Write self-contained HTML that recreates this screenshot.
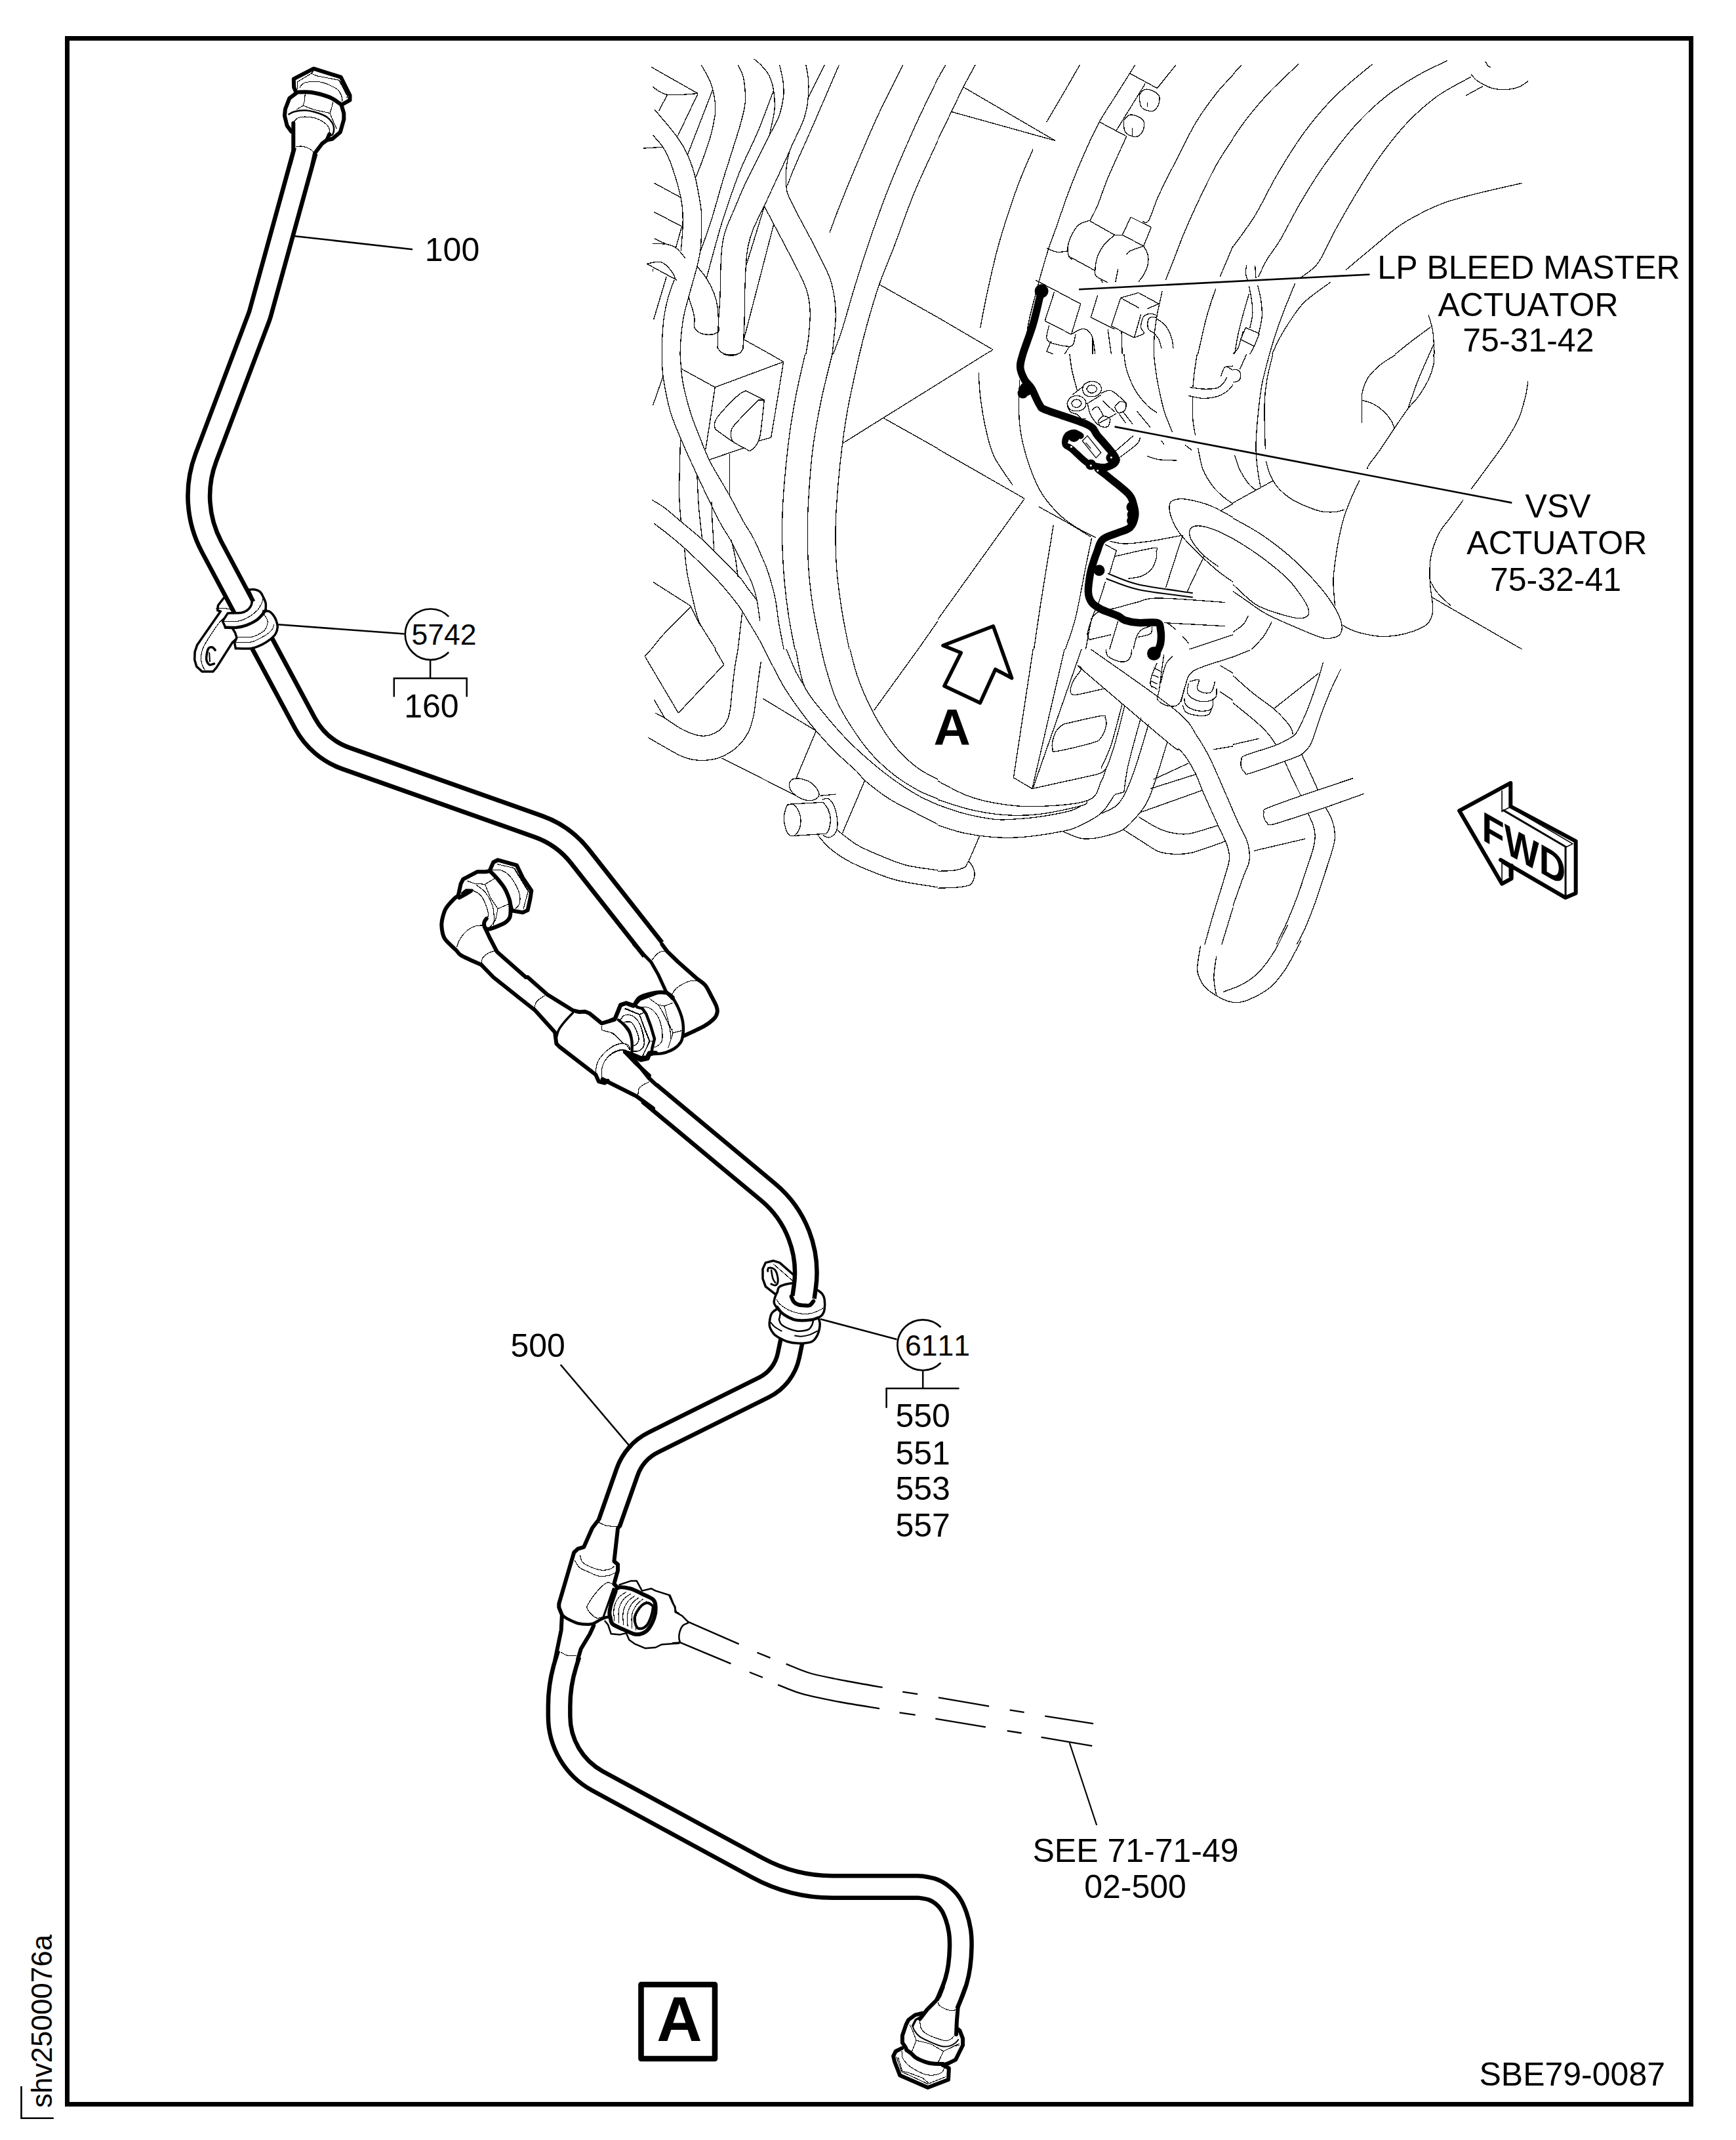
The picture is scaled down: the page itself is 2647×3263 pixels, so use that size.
<!DOCTYPE html>
<html><head><meta charset="utf-8"><title>SBE79-0087</title>
<style>html,body{margin:0;padding:0;background:#fff}svg{display:block}text{font-family:"Liberation Sans",Arial,sans-serif;fill:#000;font-kerning:none}</style>
</head><body>
<svg width="2647" height="3263" viewBox="0 0 2647 3263">
<rect width="2647" height="3263" fill="#fff"/>
<g id="engine">
<path d="M993 102.2 L1064.2 142.6 M995 132.3 C998.8 134.3 1006.1 142.7 1017.6 144.4 C1029.1 146.1 1056.4 142.9 1064.2 142.6 M1017.6 144.4 L1004.6 169.1 M997.6 166.5 C1003.3 173.4 1023.3 196.2 1031.8 207.9 C1040.3 219.6 1044.2 226.8 1048.7 236.5 C1053.2 246.2 1056.3 256.2 1059.1 266.3 C1061.9 276.4 1063.8 287.9 1065.5 297.4 C1067.2 306.9 1068.8 313.8 1069.4 323.3 C1070.1 332.8 1069.6 344.9 1069.4 354.4 C1069.2 363.9 1069.2 371.7 1068.1 380.3 C1067 388.9 1065.9 394.1 1062.9 406.2 C1059.9 418.3 1053.5 439.9 1050 452.9 C1046.5 465.9 1044.2 473.6 1042.2 484 C1040.2 494.4 1039.2 505.8 1038.3 515.1 C1037.4 524.4 1037.2 535.9 1037 540 M1064.2 142.6 L1033.1 207.9 M1069.4 99.1 C1071.8 103.6 1080.2 117 1083.7 126.3 C1087.2 135.6 1089.1 146.6 1090.2 154.8 C1091.3 163 1091.3 166.9 1090.2 175.5 C1089.1 184.1 1087 194.9 1083.7 206.6 C1080.5 218.3 1074.6 234.7 1070.7 245.5 C1066.8 256.3 1062.1 267.2 1060.4 271.5 M1086.3 138 L1048.7 235.2 M995.6 206.1 C998.2 209.2 1006.8 218.2 1011.1 224.8 C1015.4 231.4 1018 236.9 1021.5 245.5 C1025 254.1 1029 267.1 1031.8 276.6 C1034.6 286.1 1036.8 294.8 1038.3 302.6 C1039.8 310.4 1040.5 315.5 1040.9 323.3 C1041.3 331.1 1041.3 339.3 1040.9 349.2 C1040.5 359.1 1038.7 377.3 1038.3 382.9 M981.3 226.1 L1009.8 224.3 M997.6 279.2 L1038.3 301.3 M997.6 323.3 L1039.6 345.3 M1039.6 345.3 L1030.5 377.7 M997.6 363.5 C1000.3 364.8 1008.2 368.8 1013.7 371.2 C1019.2 373.6 1025.3 374 1030.5 377.7 C1035.7 381.4 1042.4 390.7 1044.8 393.3 M995 371.2 L1013.7 372 M986.5 402.4 C988.4 402 994.4 400.2 998.1 399.8 C1001.8 399.4 1005 398.5 1008.5 399.8 C1012 401.1 1015.9 404.5 1018.9 407.5 C1021.9 410.5 1024.8 414.6 1026.7 417.9 C1028.6 421.1 1029.9 425.5 1030.5 427 M986.5 402.4 L1031.8 427 M995.6 410.1 L995.6 414 M1016.3 421.8 L996.8 486.6 M1028 427 C1026.5 431.3 1021.5 443.4 1018.9 452.9 C1016.3 462.4 1013.9 473.6 1012.4 484 C1010.9 494.4 1010.3 505.8 1009.8 515.1 C1009.3 524.4 1009.4 535.9 1009.3 540 M1125.2 99.1 C1126.5 101.9 1131.1 108.8 1132.9 115.9 C1134.8 123 1135.9 134 1136.3 141.8 C1136.7 149.6 1136.9 153.9 1135.5 162.6 C1134.1 171.2 1131.2 181.6 1127.8 193.7 C1124.3 205.8 1119.1 221.4 1114.8 235.2 C1110.5 249 1107 259.3 1101.8 276.6 C1096.6 293.9 1089.3 321.1 1083.7 338.8 C1078.1 356.5 1070.7 375.5 1068.1 382.9 M1149.8 90 C1151.8 91.7 1157.6 96.1 1161.5 100.4 C1165.4 104.7 1170.1 109.6 1173.1 115.9 C1176.1 122.2 1178.3 129.3 1179.6 138 C1180.9 146.7 1182 156.4 1180.9 167.8 C1179.8 179.2 1174.4 200.1 1173.1 206.6 M1179.6 138 C1175.7 148.2 1164.5 179.2 1156.3 198.9 C1148.1 218.6 1137.2 239.5 1130.3 255.9 C1123.4 272.3 1119.5 284 1114.8 297.4 C1110 310.8 1105.2 325.5 1101.8 336.3 C1098.3 347.1 1098.2 347.5 1094.1 362.2 C1090 376.9 1080 414 1077.2 424.4 M1188.7 99.1 C1189.6 103.2 1192.9 115.7 1193.9 123.7 C1194.9 131.7 1195.7 137.9 1194.6 147 C1193.5 156.1 1191 168.2 1187.4 178.1 C1183.8 188 1178.3 196.2 1173.1 206.6 C1167.9 217 1162.6 227.8 1156.3 240.3 C1150 252.8 1141.5 268.8 1135.5 281.8 C1129.5 294.8 1124.8 306.9 1120 318.1 C1115.2 329.3 1110 340.6 1107 349.2 C1104 357.8 1103.1 361.4 1101.8 370 C1100.5 378.6 1099.8 387.3 1099.2 401.1 C1098.6 414.9 1098.5 437.8 1097.9 452.9 C1097.3 468 1096 478.8 1095.4 491.8 C1094.8 504.8 1094.3 524.2 1094.1 530.7 M1228.8 99.1 C1229.5 103.2 1232.3 114 1232.7 123.7 C1233.1 133.4 1232.7 147.5 1231.4 157.4 C1230.1 167.3 1227.8 175.1 1225 183.3 C1222.2 191.5 1218.1 198.8 1214.6 206.6 C1211.1 214.4 1206.8 221.8 1204.2 230 C1201.6 238.2 1199.9 246.8 1199 255.9 C1198.1 265 1198.3 277 1199 284.4 C1199.7 291.8 1199.7 292.2 1202.9 300 C1206.2 307.8 1212.5 319.4 1218.5 331.1 C1224.5 342.8 1233.2 358.3 1239.2 370 C1245.2 381.7 1250.3 391.6 1254.8 401.1 C1259.3 410.6 1263.4 417.5 1266.4 427 C1269.4 436.5 1271.6 448.6 1272.9 458.1 C1274.2 467.6 1274.4 474.5 1274.2 484 C1274 493.5 1272.5 505.8 1271.6 515.1 C1270.7 524.4 1269.4 535.9 1269 540 M1257.4 99.1 L1232.7 148.3 M1279.4 99.1 C1272.8 114.4 1250.7 165.8 1239.7 191.1 C1228.7 216.4 1219.9 235.4 1213.3 250.7 C1206.7 266 1202.5 277.7 1200.3 283.1 M1204.2 230 L1165.3 314.2 M1165.3 314.2 C1162.5 320 1152.6 339 1148.5 349.2 C1144.4 359.4 1142.5 366.5 1140.7 375.1 C1138.9 383.8 1138.5 388.1 1137.6 401.1 C1136.7 414.1 1135.9 437.8 1135.5 452.9 C1135.1 468 1135.4 478.8 1135 491.8 C1134.6 504.8 1133.2 524.2 1132.9 530.7 M1165.3 315.5 L1138.1 403.7 M1165.3 314.2 C1167.7 318.7 1172.9 328.6 1179.6 341.4 C1186.3 354.1 1197.9 376 1205.5 390.7 C1213.1 405.4 1220.5 419.2 1225 429.6 C1229.5 440 1231 444.7 1232.7 452.9 C1234.4 461.1 1235.3 468.4 1235.3 478.8 C1235.3 489.2 1233.8 504.9 1232.7 515.1 C1231.6 525.3 1229.5 535.9 1228.8 540 M1179.6 342.7 L1134.2 517.7 M1062.9 406.2 C1065.3 409.2 1072.9 417.5 1077.2 424.4 C1081.5 431.3 1086.1 440.3 1088.9 447.7 C1091.7 455.1 1092.9 459 1094.1 468.5 C1095.3 478 1095.8 498.7 1096.1 504.7 M1050 452.9 C1051.1 456.3 1055 468 1056.5 473.6 C1058 479.2 1058.7 482.3 1059.1 486.6 C1059.5 490.9 1057.4 495.9 1059.1 499.6 C1060.8 503.3 1064.9 506.9 1069.4 508.6 C1073.9 510.3 1082 510.3 1086.3 509.9 C1090.6 509.5 1093.9 506.6 1095.4 506 M1094.1 530.7 C1095.4 532 1098.3 536.7 1101.8 538.4 C1105.2 540.1 1110.5 541 1114.8 541 C1119.1 541 1124.7 540.1 1127.8 538.4 C1130.9 536.7 1132.5 532 1133.5 530.7 M1134.2 517.7 L1174.4 540 M1376.6 99.1 C1370.1 112.3 1349.8 152 1337.7 178.1 C1325.6 204.2 1313.5 233.4 1304 255.9 C1294.5 278.4 1287.2 296.5 1280.7 312.9 C1274.2 329.3 1267.7 347.5 1265.1 354.4 M1430 119.8 C1424.1 132.1 1407 166.3 1394.7 193.7 C1382.4 221.1 1367.1 256.3 1355.9 284.4 C1344.7 312.5 1336.1 337.1 1327.4 362.2 C1318.8 387.3 1311.3 411.1 1304 434.8 C1296.7 458.6 1288.9 487.2 1283.3 504.7 C1277.7 522.2 1272.5 534.1 1270.3 540 M1430 214.4 C1424.1 227.4 1405.8 265.4 1394.7 292.2 C1383.6 319 1372.7 351.3 1363.6 375.1 C1354.5 398.9 1347.2 414.9 1340.3 434.8 C1333.4 454.7 1327.2 476.9 1322.2 494.4 C1317.2 511.9 1312.5 532.4 1310.5 540 M1340.3 433.5 L1430 484 M1441.7 99.1 L1430 119.8 M1487 99.1 C1484 104.7 1475 120.9 1468.9 132.8 C1462.9 144.7 1457.2 157 1450.7 170.4 C1444.2 183.8 1433.5 206 1430 213.1 M1468.9 132.8 L1608.9 214.4 M1450.7 170.4 L1608.9 214.4 M1646.4 99.1 C1642.3 106.2 1630.2 127.3 1621.8 141.8 C1613.4 156.3 1600.2 178.6 1595.9 185.9 M1575.2 227.4 C1571.7 235.6 1560.9 259.8 1554.4 276.6 C1547.9 293.5 1541.9 311.2 1536.3 328.5 C1530.7 345.8 1525.5 362.6 1520.7 380.3 C1516 398 1511.5 418.4 1507.8 434.8 C1504.1 451.2 1500.9 468 1498.7 478.8 C1496.5 489.6 1495.5 496.1 1494.8 499.6 M1730.7 99.1 C1726 106.6 1711.3 129.9 1702.2 144.4 C1693.1 158.9 1684.5 170.8 1676.3 185.9 C1668.1 201 1660.7 217.5 1652.9 235.2 C1645.1 252.9 1636.5 274.1 1629.6 292.2 C1622.7 310.3 1616.7 329.3 1611.5 344 C1606.3 358.7 1602.8 366.9 1598.5 380.3 C1594.2 393.7 1589.4 410.6 1585.5 424.4 C1581.6 438.2 1578.2 451.2 1575.2 463.3 C1572.2 475.4 1569.6 484.2 1567.4 497 C1565.2 509.8 1563.1 532.8 1562.2 540 M1722.9 112 L1764.4 134.6 M1764.4 134.6 L1792.9 99.1 M1746.2 127.6 L1702.2 198.9 M1676.3 185.9 L1717.7 207.9 M1717.7 207.9 C1713 218.5 1696.5 254 1689.2 271.5 C1681.9 289 1678.2 302.1 1673.7 312.9 C1669.2 323.7 1664 332.4 1662 336.3 M1737.2 144.4 C1738.5 143.1 1741.7 137.8 1744.9 136.7 C1748.1 135.6 1752.9 136.5 1756.6 138 C1760.3 139.5 1765.3 142.5 1767 145.7 C1768.7 148.9 1768.1 153.7 1767 157.4 C1765.9 161.1 1763.1 165.9 1760.5 167.8 C1757.9 169.8 1754.9 170 1751.4 169.1 C1748 168.2 1742.2 166.7 1739.8 162.6 C1737.4 158.5 1737.6 147.4 1737.2 144.4 M1749.4 156.1 L1749.4 162.6 M1713.8 183.3 C1715.1 182 1718.3 176.6 1721.6 175.5 C1724.8 174.4 1729.6 175.3 1733.3 176.8 C1737 178.3 1742 181.3 1743.7 184.6 C1745.4 187.8 1744.8 192.6 1743.7 196.3 C1742.6 200 1740 204.7 1737.2 206.6 C1734.4 208.5 1730.5 209 1726.8 207.9 C1723.1 206.8 1717.3 204.3 1715.1 200.2 C1712.9 196.1 1714 186.1 1713.8 183.3 M1726.3 195 L1726.3 206.6 M1880 114.6 C1875.8 119.1 1864.4 129.9 1855.1 141.8 C1845.8 153.7 1834.4 168.6 1824 185.9 C1813.6 203.2 1802.4 226.9 1792.9 245.5 C1783.4 264.1 1773.9 282.3 1767 297.4 C1760.1 312.5 1755.5 329.6 1751.4 336.3 C1747.3 343 1743.9 337.4 1742.4 337.6 M1880 211.8 C1875.8 218.3 1863.6 235.6 1855.1 250.7 C1846.6 265.8 1837.4 285.3 1829.2 302.6 C1821 319.9 1812.8 338 1805.9 354.4 C1799 370.8 1792.5 389 1787.7 401.1 C1783 413.2 1779.1 422.7 1777.4 427 M1880 375.1 L1860.3 421.8 M1660.7 336.3 C1658.1 337.4 1649.4 339.2 1645.1 342.7 C1640.8 346.1 1637.6 351.6 1634.8 357 C1632 362.4 1629.2 369.5 1628.3 375.1 C1627.4 380.7 1628.5 387.2 1629.6 390.7 C1630.7 394.2 1633.9 395 1634.8 395.9 M1660.7 336.3 L1699.6 358.3 M1699.6 358.3 L1711.2 358.3 M1711.2 358.3 L1743.7 375.1 M1629.6 390.7 L1669.8 412.7 M1699.6 358.3 C1697 360.7 1688.3 367.1 1684 372.5 C1679.7 377.9 1676.1 384 1673.7 390.7 C1671.3 397.4 1670 407.5 1669.8 412.7 C1669.6 417.9 1669.2 418.8 1672.4 421.8 C1675.6 424.8 1686.4 429.4 1689.2 430.9 M1743.7 375.1 C1744.8 377.3 1749 383.3 1750.1 388.1 C1751.2 392.9 1751.2 398.5 1750.1 403.7 C1749 408.9 1746.1 414.9 1743.7 419.2 C1741.3 423.5 1737.2 427.9 1735.9 429.6 M1711.2 358.3 L1724.2 331.1 M1724.2 331.1 L1755.3 346.6 M1755.3 346.6 L1743.7 375.1 M1717.7 388.1 C1718.6 387.2 1718.6 385.1 1722.9 382.9 C1727.2 380.7 1740.2 376.4 1743.7 375.1 M1704.8 410.1 L1700.9 429.6 M1595.9 378.5 C1598.5 379.4 1606.1 383.5 1611.5 384.2 C1616.9 384.9 1625.5 383.1 1628.3 382.9 M1678.8 427 L1681.4 430.9 M1579 427 L1647.7 463.3 M1607.6 445.1 L1593.3 489.2 M1593.3 489.2 L1633.5 509.9 M1633.5 509.9 L1647.7 463.3 M1599.8 495.7 C1599.2 498.9 1595.2 510.6 1595.9 515.1 C1596.6 519.6 1598.5 520.7 1603.7 522.9 C1608.9 525.1 1621.6 527.7 1627 528.1 C1632.4 528.5 1633.9 528.5 1636.1 525.5 C1638.3 522.5 1639.3 512.5 1640 509.9 M1602.4 520.3 L1595.9 535.9 M1595.9 535.9 L1606.3 540 M1630.9 528.1 L1623.1 540 M1633.5 509.9 C1635.9 508.6 1643.6 503.3 1647.7 502.2 C1651.8 501.1 1655.1 501.4 1658.1 503.5 C1661.1 505.6 1664 509 1665.9 515.1 C1667.9 521.2 1669.2 535.9 1669.8 540 M1665.9 515.1 L1665.9 540 M1673.7 450.3 L1663.3 484 M1663.3 484 L1699.6 502.2 M1708.7 454.2 L1735.9 446.4 M1735.9 446.4 L1767 463.3 M1708.7 454.2 L1694.4 497 M1694.4 497 L1729.4 515.1 M1729.4 515.1 L1744.9 508.6 M1708.7 454.2 L1737.2 469.8 M1767 463.3 L1748.8 471 M1739.8 478.8 L1729.4 515.1 M1772.2 443.8 L1764.4 478.8 M1689.2 502.2 L1694.4 540 M1710 504.7 L1711.2 540 M1761.8 480.1 C1760.5 479.8 1756.8 478.1 1754 478.3 C1751.2 478.5 1747.1 479.6 1744.9 481.4 C1742.8 483.2 1741.9 486.2 1741.1 489.2 C1740.2 492.2 1739.2 496.6 1739.8 499.6 C1740.4 502.6 1744.1 506 1744.9 507.3 M1763.1 484 C1761.6 484 1756.2 482.9 1754 484 C1751.8 485.1 1750.5 487.5 1750.1 490.5 C1749.7 493.5 1749.9 499.4 1751.4 502.2 C1752.9 505 1757.9 506.4 1759.2 507.3 M1763.1 485.3 C1765.5 487.2 1773.5 492 1777.4 497 C1781.3 502 1784.5 509.5 1786.4 515.1 C1788.3 520.7 1788.6 528.1 1789 530.7 M1759.2 507.3 C1760.5 509 1765 513.8 1767 517.7 C1769 521.6 1770.2 528.5 1770.9 530.7 M1853.8 439.9 C1851.4 447.2 1844.1 467.3 1839.6 484 C1835.1 500.7 1828.8 530.7 1826.6 540 M1764.4 478.8 C1763.8 483.6 1761.4 497.1 1760.5 507.3 C1759.6 517.5 1759.4 534.5 1759.2 540 M1430 484 L1514.2 533.3 M1514.2 533.3 L1502.6 540 M1893 99.1 L1880 113.3 M1979.8 97.8 C1972.2 105.1 1947.2 128.4 1934.4 141.8 C1921.7 155.2 1912.4 166.7 1903.3 178.1 C1894.2 189.5 1883.9 205.1 1880 210.5 M2092.6 97.8 C2083.1 106 2052.8 129.7 2035.5 147 C2018.2 164.3 2003.6 181.6 1988.9 201.5 C1974.2 221.4 1959.9 245.1 1947.4 266.3 C1934.9 287.5 1924.9 310.1 1913.7 328.5 C1902.5 346.9 1885.6 368.4 1880 376.4 M2206.6 92.6 C2198.8 96.5 2175.6 106.8 2160 115.9 C2144.4 125 2128.9 134.5 2113.3 147 C2097.7 159.5 2082.2 173.8 2066.6 191.1 C2051 208.4 2033.8 231.3 2020 250.7 C2006.2 270.1 1994.9 288.7 1983.7 307.7 C1972.5 326.7 1961.2 350.1 1952.6 364.8 C1943.9 379.5 1937.4 386.4 1931.8 395.9 C1926.2 405.4 1921.1 417.5 1918.9 421.8 M2242.9 117.2 C2234.3 122.2 2207.5 135.1 2191.1 147 C2174.7 158.9 2159.1 172.9 2144.4 188.5 C2129.7 204.1 2115.9 222.2 2102.9 240.3 C2089.9 258.4 2077.8 278.8 2066.6 297.4 C2055.4 316 2045 334.5 2035.5 351.8 C2026 369.1 2018.2 389.2 2009.6 401.1 C2001 413 1988 419.4 1983.7 423.1 M2242.9 113.3 C2244.6 115 2248.1 120.2 2253.3 123.7 C2258.5 127.2 2267.1 131.9 2274 134.1 C2280.9 136.3 2287.8 136.9 2294.7 136.7 C2301.6 136.5 2309.6 135 2315.5 132.8 C2321.4 130.6 2327.6 125.2 2330 123.7 M2235.1 145.7 L2261 131.5 M2264.9 93.9 C2265.6 95 2267.5 99 2268.8 100.4 C2270.1 101.8 2272 102.1 2272.7 102.4 M2320.7 279.2 C2309.5 281.8 2272.3 290.1 2253.3 294.8 C2234.3 299.6 2220 303.2 2206.6 307.7 C2193.2 312.2 2185 315.9 2172.9 322 C2160.8 328.1 2147.4 334.7 2134 344 C2120.6 353.3 2106.2 366.5 2092.6 377.7 C2079 388.9 2059.1 405.8 2052.4 411.4 M1900.7 403.7 C1900.5 405.9 1899.2 412.7 1899.4 416.6 C1899.6 420.5 1901.6 425.3 1902 427 M1913.7 404.9 L1915 424.4 M1904.6 436.1 C1905.2 439.8 1907.6 451 1908.5 458.1 C1909.4 465.2 1910.2 471.9 1909.8 478.8 C1909.4 485.7 1906.6 496.1 1905.9 499.6 M1917.6 434.8 C1918.5 438.7 1921.7 449.9 1922.8 458.1 C1923.9 466.3 1924.8 475.4 1924.1 484 C1923.4 492.6 1919.8 505.6 1918.9 509.9 M1904.6 447.7 C1903.1 452.9 1898.4 468.4 1895.6 478.8 C1892.8 489.2 1890 499.7 1887.8 509.9 C1885.6 520.1 1883.5 535 1882.6 540 M1899.4 499.6 L1920.2 508.6 M1920.2 508.6 L1912.4 528.1 M1912.4 528.1 L1891.7 517.7 M1891.7 517.7 L1899.4 499.6 M1891.7 517.7 C1891 519.9 1889.8 527 1887.8 530.7 C1885.8 534.4 1881.3 538.5 1880 540 M1912.4 528.1 L1905.9 540 M1895.6 504.7 L1893 515.1 M1974.6 432.2 C1971.8 439.1 1962.8 460.7 1957.8 473.6 C1952.8 486.6 1948.5 498.8 1944.8 509.9 C1941.1 521 1937.2 535 1935.7 540 M2029 430.1 C2022.3 435.2 1999.5 450.4 1988.9 460.7 C1978.3 471 1972 482.3 1965.5 491.8 C1959 501.3 1954.3 509.7 1950 517.7 C1945.7 525.7 1941.3 536.3 1939.6 540 M2178.1 480.1 C2179.2 484.2 2183.1 494.7 2184.6 504.7 C2186.1 514.7 2186.8 534.1 2187.2 540 M2182 498.3 C2177 502 2161.3 513.3 2152.2 520.3 C2143.1 527.2 2131.7 536.7 2127.6 540 M2185.9 525.5 L2179.4 540 M1009.3 540 C1009.6 545.6 1009.1 559.5 1011.1 573.7 C1013.1 588 1017 609.5 1021.5 625.5 C1026 641.5 1031.8 654 1038.3 669.6 C1044.8 685.2 1053.3 703.4 1060.4 718.9 C1067.5 734.4 1074.6 749.5 1081.1 762.9 C1087.6 776.3 1093.6 788.8 1099.2 799.2 C1104.8 809.6 1109.2 814.7 1114.8 825.1 C1120.4 835.5 1127.7 851 1132.9 861.4 C1138.1 871.8 1142.4 878.8 1145.9 887.4 C1149.4 896 1151.5 903.4 1153.7 913.3 C1155.9 923.2 1158 941.4 1158.9 947 M1011.1 573.7 L995.6 617.8 M1037 540 C1037.7 546.9 1038.3 566.8 1040.9 581.5 C1043.5 596.2 1048.1 613.4 1052.6 628.1 C1057.1 642.8 1062.9 656.6 1068.1 669.6 C1073.3 682.6 1076.3 691.6 1083.7 705.9 C1091.1 720.1 1104 740.4 1112.2 755.1 C1120.4 769.8 1126.9 783.2 1132.9 794 C1139 804.8 1143.7 810.9 1148.5 820 C1153.3 829.1 1157.6 839.4 1161.5 848.5 C1165.4 857.6 1168.3 863.6 1171.8 874.4 C1175.2 885.2 1179.6 900.8 1182.2 913.3 C1184.8 925.8 1185.2 936.8 1187.4 949.6 C1189.6 962.4 1193.8 983.3 1195.1 990 M1038.3 562 L1090.2 590.5 M1090.2 590.5 L1194.6 551.7 M1194.6 551.7 L1174.4 540 M1090.2 590.5 C1088.9 599.4 1084.8 627.9 1082.4 643.7 C1080 659.5 1077 678.3 1075.9 685.2 M1194.6 551.7 C1193 561.9 1187.9 593.4 1184.8 612.6 C1181.7 631.8 1177.2 657.9 1175.7 667 M1175.7 667 L1157.6 672.2 M1082.4 700.7 L1135.5 682.6 M1136.8 595.7 L1165.3 610 M1165.3 610 C1164.2 619.1 1161.3 652.5 1158.9 664.4 C1156.5 676.3 1153.7 677.4 1151.1 681.3 C1148.5 685.2 1144.6 686.7 1143.3 687.8 M1143.3 687.8 C1139 685.4 1126.2 679.1 1117.4 673.5 C1108.6 667.9 1094.7 657.3 1090.2 654.1 M1090.2 654.1 C1090.4 651.7 1087.8 646.3 1091.5 639.8 C1095.2 633.3 1106.2 621.7 1112.2 615.2 C1118.2 608.7 1123.7 604.1 1127.8 600.9 C1131.9 597.6 1135.3 596.6 1136.8 595.7 M1156.3 610 C1150.5 616 1128.2 638.3 1121.3 646.3 C1114.4 654.3 1115.9 654.4 1114.8 657.9 C1113.7 661.4 1114.4 664.4 1114.8 667 C1115.2 669.6 1117 672.4 1117.4 673.5 M1165.3 610 L1156.3 610 M1112.2 691.6 L1112.2 755.1 M1037.5 669.6 C1037.3 676.1 1036.8 694.2 1036.5 708.5 C1036.2 722.8 1035.4 740.6 1035.7 755.1 C1036 769.6 1037.9 788.6 1038.3 795.3 M1062.9 725.3 C1063.3 733.3 1064.2 757.1 1065.5 773.3 C1066.8 789.5 1069.8 814.3 1070.7 822.5 M1085 765.5 C1085.2 771.1 1085.6 786.7 1086.3 799.2 C1087 811.7 1088.5 833.8 1088.9 840.7 M1114.8 822.5 C1115.9 827.3 1119.6 841.6 1121.3 851.1 C1123 860.6 1124.5 874.9 1125.2 879.6 M994.3 762.4 C997.5 764.4 1006.4 769.1 1013.7 774.6 C1021 780.1 1028.8 787.3 1038.3 795.3 C1047.8 803.3 1062.3 814.9 1070.7 822.5 C1079.1 830.1 1079.8 831.6 1088.9 840.7 C1098 849.8 1116.6 867.5 1125.2 877 C1133.8 886.5 1136 891.4 1140.7 897.7 C1145.5 904 1151.5 911.8 1153.7 914.6 M996.8 797.9 C1000.5 800.7 1011.1 808.5 1018.9 814.8 C1026.7 821.1 1034.9 827.7 1043.5 835.5 C1052.1 843.3 1062.3 853.2 1070.7 861.4 C1079.1 869.6 1085 874.6 1094.1 884.8 C1103.2 894.9 1117.4 911.9 1125.2 922.3 C1133 932.7 1135.5 938.6 1140.7 947 C1145.9 955.4 1152.2 965.7 1156.3 972.9 C1160.4 980.1 1163.8 987.1 1165.3 990 M1043.5 835.5 C1044.2 841.5 1045.5 859.7 1047.4 871.8 C1049.4 883.9 1052.6 896.9 1055.2 908.1 C1057.8 919.3 1060.5 931.4 1062.9 939.2 C1065.3 947 1064.6 946.2 1069.4 954.7 C1074.2 963.2 1087.8 984.1 1091.5 990 M995.6 887.4 L1052.6 923.6 M1052.6 923.6 C1054.8 927.9 1062.7 944.4 1065.5 949.6 C1068.3 954.8 1068.8 953.9 1069.4 954.7 M1052.6 926.2 C1046.1 932.7 1023.6 954.5 1013.7 965.1 C1003.8 975.7 996.5 985.9 993 990 M1131.6 934 C1131 939.6 1128.9 958.4 1127.8 967.7 C1126.7 977 1125.6 986.3 1125.2 990 M1227.6 540 C1225.2 550.8 1217.4 583.2 1213.3 604.8 C1209.2 626.4 1205.9 645.8 1202.9 669.6 C1199.9 693.4 1196.8 725.8 1195.1 747.4 C1193.4 769 1192.9 784.1 1192.6 799.2 C1192.3 814.3 1192.5 823 1193.1 838.1 C1193.7 853.2 1194.8 872.6 1196.4 889.9 C1198 907.2 1200.3 925.1 1202.9 941.8 C1205.5 958.5 1210.5 982 1212 990 M1269 540 C1266.2 551.7 1257.2 585.8 1252.2 610 C1247.2 634.2 1242.5 659.7 1239.2 685.2 C1236 710.7 1234 741.7 1232.7 762.9 C1231.4 784.1 1231.4 795.4 1231.4 812.2 C1231.4 829.1 1231.4 845.4 1232.7 864 C1234 882.6 1236 902.6 1239.2 923.6 C1242.5 944.6 1250 978.9 1252.2 990 M1310.5 540 C1307.7 553 1298 595.1 1293.7 617.8 C1289.4 640.5 1287.2 656.2 1284.6 676.1 C1282 696 1279.8 716.5 1278.1 737 C1276.4 757.5 1274.6 778 1274.2 799.2 C1273.8 820.4 1274 842.4 1275.5 864 C1277 885.6 1280.1 907.8 1283.3 928.8 C1286.5 949.8 1293 979.8 1294.9 990 M1284.6 676.1 C1295 669.6 1322.6 652.3 1346.8 637.2 C1371 622.1 1416.1 594 1430 585.4 M1346.8 637.2 L1430 683.9 M1430 947 L1399.9 990 M1103.1 540 C1105 540.4 1111.1 542.6 1114.8 542.6 C1118.5 542.6 1123.5 540.4 1125.2 540 M1502.6 540 L1430 585.4 M1492.2 568.5 C1492.6 574.5 1493.1 591 1494.8 604.8 C1496.5 618.6 1499.1 636.4 1502.6 651.5 C1506 666.6 1508.6 680.8 1515.5 695.5 C1522.4 710.2 1539.3 732.2 1544.1 739.6 M1430 684.6 L1562.2 760.3 M1562.2 760.3 L1430 944.4 M1554.4 578.9 C1554.4 589.7 1552.7 624.3 1554.4 643.7 C1556.1 663.1 1559.6 678.2 1564.8 695.5 C1570 712.8 1577.7 733.1 1585.5 747.4 C1593.3 761.7 1602.8 772 1611.5 781.1 C1620.2 790.2 1627.5 795.3 1637.4 801.8 C1647.3 808.3 1665.5 817 1671.1 820 M1584.2 772.8 C1591.3 776.8 1613.8 789 1627 796.6 C1640.2 804.2 1657.2 815 1663.3 818.7 M1606.3 800.5 C1604.6 811.1 1599.4 842.6 1595.9 864 C1592.4 885.4 1588.7 907.8 1585.5 928.8 C1582.3 949.8 1578 979.8 1576.5 990 M1664.6 820 C1663.1 827.3 1659.6 843.7 1655.5 864 C1651.4 884.3 1645.2 920.8 1640 941.8 C1634.8 962.8 1627 982 1624.4 990 M1630.9 540 C1631.6 544.3 1632.8 556.6 1634.8 565.9 C1636.8 575.2 1641.3 590.7 1642.6 595.7 M1713.8 540 C1714.5 543.9 1714.9 554.2 1717.7 563.3 C1720.5 572.4 1725.5 585.3 1730.7 594.4 C1735.9 603.5 1743.2 612 1748.8 617.8 C1754.4 623.6 1761.8 627.5 1764.4 629.4 M1759.2 540 C1760.1 546.5 1761.8 564.6 1764.4 578.9 C1767 593.1 1770.9 612.1 1774.8 625.5 C1778.7 638.9 1785.5 653.6 1787.7 659.2 M1825.3 540 C1824.7 544.3 1822.5 557.5 1821.4 565.9 C1820.3 574.3 1819.2 586.4 1818.8 590.5 M1813.6 590.5 C1817.1 590.9 1827.5 592.9 1834.4 593.1 C1841.3 593.3 1849.9 593.3 1855.1 591.8 C1860.3 590.3 1862.9 586.9 1865.5 584.1 C1868.1 581.3 1869.8 576.5 1870.7 575 M1812.3 603.5 C1816 604.1 1827.3 607.2 1834.4 607.4 C1841.5 607.6 1849 606.5 1855.1 604.8 C1861.1 603.1 1866.5 600 1870.7 597 C1874.9 594 1878.5 588.4 1880 586.7 M1818.8 604.8 C1818.8 610.4 1818.1 628.6 1818.8 638.5 C1819.5 648.4 1822 660.1 1822.7 664.4 M1861.6 573.7 C1862.7 571.3 1865 560.9 1868.1 559.4 C1871.2 557.9 1878 563.7 1880 564.6 M1868.1 559.4 L1880 558.1 M1650.3 593.1 C1651 591.8 1651.8 587.3 1654.2 585.4 C1656.6 583.5 1661.1 581.6 1664.6 581.5 C1668.1 581.4 1672.5 582.7 1675 584.6 C1677.5 586.5 1679.4 590.2 1679.4 593.1 C1679.4 596 1677.5 599.8 1675 601.7 C1672.5 603.7 1668.1 604.8 1664.6 604.8 C1661.1 604.8 1656.6 603.7 1654.2 601.7 C1651.8 599.8 1651 594.5 1650.3 593.1 M1656.8 593.1 C1657.5 592.2 1658.8 588.9 1660.7 588 C1662.7 587.1 1666.5 587.1 1668.5 588 C1670.5 588.9 1672.4 591.4 1672.4 593.1 C1672.4 594.8 1670.5 597.4 1668.5 598.3 C1666.5 599.2 1662.7 599.2 1660.7 598.3 C1658.8 597.4 1657.5 594 1656.8 593.1 M1627 615.2 C1627.7 613.9 1628.5 609.4 1630.9 607.4 C1633.3 605.4 1637.8 603.6 1641.3 603.5 C1644.8 603.4 1649.1 604.6 1651.6 606.6 C1654 608.6 1656 612.4 1656 615.2 C1656 618.1 1654 621.8 1651.6 623.7 C1649.1 625.6 1644.8 626.8 1641.3 626.8 C1637.8 626.8 1633.3 625.6 1630.9 623.7 C1628.5 621.8 1627.7 616.6 1627 615.2 M1633.5 615.2 C1634.2 614.3 1635.5 610.9 1637.4 610 C1639.3 609.1 1643.2 609.1 1645.1 610 C1647 610.9 1649 613.5 1649 615.2 C1649 616.9 1647 619.5 1645.1 620.4 C1643.2 621.3 1639.3 621.3 1637.4 620.4 C1635.5 619.5 1634.2 616.1 1633.5 615.2 M1651.6 589.3 L1634.8 602.2 M1678.8 599.6 C1681.4 599 1688.4 593.5 1694.4 595.7 C1700.5 597.9 1711.2 608.9 1715.1 612.6 C1719 616.3 1717.3 616.9 1717.7 617.8 M1658.1 615.2 L1678.8 602.2 M1658.1 615.2 C1659 618.2 1660.3 627.7 1663.3 633.3 C1666.3 638.9 1672 646.1 1676.3 648.9 C1680.6 651.7 1686.4 651.9 1689.2 650.2 C1692 648.5 1692.4 640.5 1693.1 638.5 M1699.6 620.4 C1700.9 619.1 1704.6 613.5 1707.4 612.6 C1710.2 611.7 1715.1 613.1 1716.4 615.2 C1717.7 617.4 1717 623.1 1715.1 625.5 C1713.2 627.9 1707.4 630.2 1704.8 629.4 C1702.2 628.5 1700.5 621.9 1699.6 620.4 M1676.3 648.9 C1676.1 647.6 1673.9 643.5 1675 641.1 C1676.1 638.7 1679.9 635.2 1682.7 634.6 C1685.5 634 1690.3 636.8 1691.8 637.2 M1664.6 625.5 C1666.1 624.6 1670.7 618.9 1673.7 620.4 C1676.7 621.9 1681.2 632.2 1682.7 634.6 M1627 617.8 C1627.9 619.5 1629.6 625.7 1632.2 628.1 C1634.8 630.5 1639.8 630.3 1642.6 632 C1645.4 633.7 1646.8 637.4 1649 638.5 C1651.2 639.6 1654.4 638.5 1655.5 638.5 M1681.4 611.3 L1699.6 628.1 M1702.2 630.7 L1676.3 645 M1706.1 630.7 L1716.4 645 M1712.5 628.1 L1726.8 646.3 M1733.3 626.8 L1754 651.5 M1728.1 664.4 L1699.6 689 M1738.5 667 C1737.6 668.7 1738.9 672 1733.3 677.4 C1727.7 682.8 1709.5 695.7 1704.8 699.4 M1770.9 672.2 L1774.8 677.4 M1807.2 678.7 L1817.5 686.5 M1748.8 695.5 C1751.8 696.4 1759.4 699.6 1767 700.7 C1774.6 701.8 1789.7 701.8 1794.2 702 M1826.6 682.6 C1827.9 688.2 1830.5 706.4 1834.4 716.3 C1838.3 726.2 1844.7 735.3 1849.9 742.2 C1855.1 749.1 1860.5 753.4 1865.5 757.7 C1870.5 762 1877.6 766.4 1880 768.1 M1880 788.8 C1874.1 785.8 1856.2 775.2 1844.7 770.7 C1833.2 766.2 1819.6 763.1 1811 761.6 C1802.4 760.1 1797.4 760.5 1792.9 761.6 C1788.4 762.7 1785.1 764 1783.8 768.1 C1782.5 772.2 1782.7 778.9 1785.1 786.3 C1787.5 793.6 1791.6 803.1 1798.1 812.2 C1804.6 821.3 1814.5 831.2 1824 840.7 C1833.5 850.2 1845.8 861.4 1855.1 869.2 C1864.4 877 1875.8 884.4 1880 887.4 M1880 821.2 C1875 818.8 1858.8 810.2 1849.9 807 C1841 803.8 1832.4 801.8 1826.6 801.8 C1820.8 801.8 1816.6 803.5 1814.9 807 C1813.2 810.5 1813 816 1816.2 822.5 C1819.5 829 1827.5 839 1834.4 845.9 C1841.3 852.8 1853.8 861 1857.7 864 M1861.6 778.5 L1880 768.1 M1691.8 825.1 C1695.7 825.8 1704.7 829 1715.1 829 C1725.5 829 1739.3 827.2 1754 825.1 C1768.7 823 1795.1 817.6 1803.3 816.1 M1803.3 816.1 L1777.4 896.4 M1835.7 848.5 L1809.8 902.9 M1685.3 830.3 L1702.2 839.4 M1702.2 839.4 L1691.8 874.4 M1699.6 848.5 C1709.5 846.3 1748.6 836.8 1759.2 835.5 C1769.8 834.2 1762.4 838.1 1763.1 840.7 C1763.8 843.3 1764.2 846.8 1763.1 851.1 C1762 855.4 1760.3 862.1 1756.6 866.6 C1752.9 871.1 1747.1 875.7 1741.1 878.3 C1735 880.9 1723.8 881.6 1720.3 882.2 M1685.3 887.4 C1683.8 892.1 1679.8 906.4 1676.3 915.9 C1672.8 925.4 1668.1 932 1664.6 944.4 C1661.1 956.8 1657 982.4 1655.5 990 M1663.3 944.4 C1665 942.7 1666.8 937 1673.7 934 C1680.6 931 1694.9 928.8 1704.8 926.2 C1714.7 923.6 1722.9 920.9 1733.3 918.5 C1743.7 916.1 1744.5 912 1767 912 C1789.5 912 1851.2 917.4 1868.1 918.5 M1774.8 949.6 L1868.1 954.7 M1704.8 947 L1691.8 990 M1664.6 944.4 C1663.5 947.9 1658.8 959.9 1658.1 965.1 C1657.4 970.3 1660.3 973.8 1660.7 975.5 M1660.7 975.5 L1694.4 967.7 M1754 954.7 C1751.8 955.6 1744.5 957.3 1741.1 959.9 C1737.6 962.5 1735.5 965.3 1733.3 970.3 C1731.1 975.3 1729 986.7 1728.1 990 M1734.6 971.6 C1737.8 970.7 1750.3 969.2 1754 966.4 C1757.7 963.6 1756.2 956.7 1756.6 954.7 M1779.9 949.6 L1792.9 959.9 M1803.3 970.3 L1812.3 980.7 M1880 967.7 L1813.6 990 M1900.7 540 L1890.4 563.3 M1880 563.3 C1881.3 563.5 1885.8 563.3 1887.8 564.6 C1889.8 565.9 1891.5 568.5 1891.7 571.1 C1891.9 573.7 1891 578.2 1889.1 580.2 C1887.1 582.2 1881.5 582.4 1880 582.8 M1935.7 540 C1933.8 547.8 1927.1 570.3 1924.1 586.7 C1921.1 603.1 1919.1 622.5 1917.6 638.5 C1916.1 654.5 1915 669.6 1915 682.6 C1915 695.6 1916.4 706.4 1917.6 716.3 C1918.8 726.2 1921.3 737.9 1922 742.2 M1940.9 540 C1939.4 546.5 1934 565.9 1931.8 578.9 C1929.6 591.9 1928.4 600.1 1928 617.8 C1927.6 635.5 1929.1 674 1929.3 685.2 M1930.5 703.3 C1931.4 706.3 1932.9 715 1935.7 721.5 C1938.5 728 1942 735.7 1947.4 742.2 C1952.8 748.7 1960.8 755.3 1968.1 760.3 C1975.4 765.3 1983.7 768.8 1991.5 772 C1999.3 775.2 2007.5 778.4 2014.8 779.8 C2022.1 781.2 2029.7 781 2035.5 780.6 C2041.3 780.2 2047.4 777.8 2049.8 777.2 M1882.6 694.2 C1883.9 697.9 1887 709.2 1890.4 716.3 C1893.9 723.4 1899.2 731.8 1903.3 737 C1907.4 742.2 1913 745.7 1915 747.4 M1880 766.8 C1885.8 763.6 1904.8 753 1915 747.4 C1925.2 741.8 1936.6 735.5 1940.9 733.1 M2127.6 541.3 C2123.9 543.7 2112.2 550.2 2105.5 555.6 C2098.8 561 2091.7 568.1 2087.4 573.7 C2083.1 579.3 2081.4 584.5 2079.6 589.3 C2077.8 594 2077 600.1 2076.5 602.2 M2076.5 602.2 L2076.5 645 M2076.5 610 C2079.6 611.1 2089.4 613.5 2095.1 616.5 C2100.8 619.5 2106.4 624 2110.7 628.1 C2115 632.2 2118.5 637 2121.1 641.1 C2123.7 645.2 2125.4 650.8 2126.3 652.8 M2179.4 540 C2176.6 546.5 2167 567.7 2162.5 578.9 C2158 590.1 2154.8 600.1 2152.2 607.4 C2149.6 614.7 2147.9 620.3 2147 622.9 M2185.9 540 C2185.9 542.6 2187.2 549.1 2185.9 555.6 C2184.6 562.1 2182 570.7 2178.1 578.9 C2174.2 587.1 2167.7 597.5 2162.5 604.8 C2157.3 612.1 2153 614.9 2147 622.9 C2141 630.9 2133.7 642 2126.3 652.8 C2119 663.6 2109.4 678.5 2102.9 687.8 C2096.4 697.1 2090.4 704 2087.4 708.5 C2084.4 713 2085.2 713.9 2084.8 715 M2073.1 731.8 C2070.7 737 2063 753 2058.9 762.9 C2054.8 772.8 2051.5 781 2048.5 791.4 C2045.5 801.8 2042.9 813.9 2040.7 825.1 C2038.5 836.3 2036.8 848.8 2035.5 858.8 C2034.2 868.8 2033.1 876.6 2032.9 884.8 C2032.7 893 2033.8 901.6 2034.2 908.1 C2034.6 914.6 2035.3 921 2035.5 923.6 M2330 581.5 C2329.3 585.4 2328.3 595.3 2325.9 604.8 C2323.5 614.3 2320.7 626.8 2315.5 638.5 C2310.3 650.2 2302.5 662.7 2294.7 674.8 C2286.9 686.9 2277.4 699.2 2268.8 711.1 C2260.2 723 2247.2 740.3 2242.9 746.1 M2231.2 762.4 C2228 766.8 2217.6 780.9 2211.8 788.8 C2206 796.7 2200.5 802.2 2196.2 809.6 C2191.9 817 2188.5 825.1 2185.9 832.9 C2183.3 840.7 2181.6 847.6 2180.7 856.2 C2179.8 864.9 2180 877 2180.2 884.8 C2180.4 892.6 2181.3 896.4 2182 902.9 C2182.7 909.4 2184.4 917.5 2184.6 923.6 C2184.8 929.7 2184.8 934.4 2183.3 939.2 C2181.8 944 2180.2 948.3 2175.5 952.2 C2170.8 956.1 2162.6 959.7 2154.8 962.5 C2147 965.3 2137.5 967.7 2128.8 969 C2120.2 970.3 2112 970.9 2102.9 970.3 C2093.8 969.6 2082.2 967 2074.4 965.1 C2066.6 963.2 2060.7 960.5 2056.3 958.6 C2051.9 956.7 2049.4 954.4 2048 953.5 M1880 790.1 C1886.5 793.8 1905.9 803.8 1918.9 812.2 C1931.9 820.6 1946.1 831.2 1957.8 840.7 C1969.5 850.2 1979.4 859.7 1988.9 869.2 C1998.4 878.7 2007.9 889.5 2014.8 897.7 C2021.7 905.9 2026 912 2030.3 918.5 C2034.6 925 2038.1 931 2040.7 936.6 C2043.3 942.2 2045.2 947.5 2045.9 952.2 C2046.6 957 2046.3 961.9 2044.6 965.1 C2042.9 968.3 2040 970.3 2035.5 971.6 C2031 972.9 2026 974.9 2017.4 972.9 C2008.8 970.9 1998 965.9 1983.7 959.9 C1969.4 953.9 1945.6 943.9 1931.8 936.6 C1918 929.3 1909.3 921.7 1900.7 915.9 C1892.1 910.1 1883.5 904 1880 901.6 M1880 821.2 C1885.2 824.5 1900.7 833.6 1911.1 840.7 C1921.5 847.8 1933.1 856.6 1942.2 864 C1951.3 871.4 1958.6 877.4 1965.5 884.8 C1972.4 892.1 1978.9 901.2 1983.7 908.1 C1988.5 915 1992.1 921.5 1994.1 926.2 C1996 931 1996.3 934 1995.4 936.6 C1994.5 939.2 1992.2 940.8 1988.9 941.8 C1985.7 942.8 1983.2 943.6 1975.9 942.3 C1968.6 941 1955.2 937.5 1944.8 934 C1934.4 930.5 1924.5 928.1 1913.7 921 C1902.9 913.9 1885.6 896.2 1880 891.2 M2180.2 884.8 C2182 887.8 2185.8 896.4 2191.1 902.9 C2196.4 909.4 2208.4 920.1 2211.8 923.6 M2183.3 910.7 L2320.7 990 M1903.3 939.2 C1902 941.4 1899.5 948.1 1895.6 952.2 C1891.7 956.3 1882.6 961.9 1880 963.8 M1939.1 948.3 C1937 952 1931.8 963.3 1926.7 970.3 C1921.6 977.2 1911.5 986.7 1908.5 990 M993 990 L983.1 1000.4 M983.1 1000.4 L1034.4 1087.2 M1034.4 1087.2 L1103.9 1013.3 M1103.9 1013.3 L1090.2 990 M997.6 1067.2 L1013.7 1095 M999.4 1087.2 C1001.8 1088.5 1007 1090.9 1013.7 1095 C1020.4 1099.1 1032.2 1107.7 1039.6 1111.8 C1046.9 1115.9 1052.2 1117.9 1057.8 1119.6 C1063.4 1121.3 1068.1 1122.4 1073.3 1122.2 C1078.5 1122 1084.2 1120.5 1088.9 1118.3 C1093.7 1116.1 1098.3 1112.9 1101.8 1109.2 C1105.2 1105.5 1107.6 1101 1109.6 1096.3 C1111.5 1091.5 1112.4 1087.6 1113.5 1080.7 C1114.6 1073.8 1115 1064.7 1116.1 1054.8 C1117.2 1044.9 1118.5 1031.9 1120 1021.1 C1121.5 1010.3 1124.3 995.2 1125.2 990 M987.8 1124.3 C991.7 1126.5 1002.9 1133.2 1011.1 1137.8 C1019.3 1142.4 1029.2 1148.5 1037 1152 C1044.8 1155.5 1050 1157.4 1057.8 1158.5 C1065.6 1159.6 1075.9 1159.6 1083.7 1158.5 C1091.5 1157.4 1097.5 1155.5 1104.4 1152 C1111.3 1148.5 1119.2 1143.6 1125.2 1137.8 C1131.2 1132 1136.8 1124.3 1140.7 1117 C1144.6 1109.7 1146.5 1101.9 1148.5 1093.7 C1150.5 1085.5 1151.1 1077.3 1152.4 1067.8 C1153.7 1058.3 1155 1046.4 1156.3 1036.7 C1157.6 1027 1159.5 1014 1160.2 1009.4 M1100.5 1155.9 L1213.3 1212.9 M1163.3 1065.2 L1244.4 1114.4 M1244.4 1114.4 L1213.3 1188.3 M1165.3 990 C1170.3 999.5 1185.4 1030.6 1195.1 1047 C1204.8 1063.4 1215.5 1077.3 1223.7 1088.5 C1231.9 1099.7 1236.2 1104.9 1244.4 1114.4 C1252.6 1123.9 1262.5 1135.1 1272.9 1145.5 C1283.3 1155.9 1298.8 1169 1306.6 1176.6 C1314.4 1184.2 1311.4 1184 1319.6 1190.9 C1327.8 1197.8 1343.4 1210.1 1355.9 1218.1 C1368.4 1226.1 1382.4 1232.3 1394.7 1238.8 C1407 1245.3 1424.1 1254 1430 1257 M1199 990 C1201.4 995.6 1208.8 1014.4 1213.3 1023.7 C1217.8 1033 1224.1 1042 1226.3 1045.7 M1213.3 990 C1215.5 999.3 1219.4 1029.7 1226.3 1045.7 C1233.2 1061.7 1244 1072.3 1254.8 1085.9 C1265.6 1099.5 1279 1114.9 1291.1 1127.4 C1303.2 1139.9 1315.3 1150.7 1327.4 1161.1 C1339.5 1171.5 1351.5 1181 1363.6 1189.6 C1375.7 1198.2 1388.8 1206.6 1399.9 1212.9 C1411 1219.2 1425 1224.8 1430 1227.2 M1252.2 990 C1253.5 995.2 1256.1 1008.1 1260 1021.1 C1263.9 1034.1 1269 1053.1 1275.5 1067.8 C1282 1082.5 1290.1 1095.8 1298.8 1109.2 C1307.5 1122.6 1316.6 1136 1327.4 1148.1 C1338.2 1160.2 1351.5 1172.3 1363.6 1181.8 C1375.7 1191.3 1388.8 1199 1399.9 1205.1 C1411 1211.1 1425 1215.9 1430 1218.1 M1296.2 990 C1297.9 996.5 1302.3 1015.9 1306.6 1028.9 C1310.9 1041.9 1316.2 1054.8 1322.2 1067.8 C1328.2 1080.8 1335.1 1094.1 1342.9 1106.6 C1350.7 1119.1 1359.3 1132.1 1368.8 1142.9 C1378.3 1153.7 1389.7 1163.9 1399.9 1171.5 C1410.1 1179.1 1425 1185.5 1430 1188.3 M1399.9 990 L1332.5 1083.3 M1318.3 1190.9 L1284.6 1270 M1203.4 1194.8 C1204.2 1193.7 1205.1 1189.5 1208.1 1188.3 C1211 1187.1 1216.3 1186.6 1221.1 1187.5 C1225.8 1188.4 1232.3 1190.6 1236.6 1193.5 C1240.9 1196.4 1245 1201.6 1247 1205.1 C1249 1208.5 1249.6 1211.7 1248.3 1214.2 C1247 1216.7 1242.9 1219.3 1239.2 1220.2 C1235.5 1221.1 1230.6 1220.6 1226.3 1219.4 C1222 1218.2 1216.8 1215.5 1213.3 1212.9 C1209.8 1210.3 1206.7 1206.9 1205 1203.9 C1203.3 1200.9 1203.7 1196.3 1203.4 1194.8 M1249.6 1213.4 L1274.2 1211.1 M1200.3 1227.2 C1202 1227.2 1207.7 1225.3 1210.7 1227.2 C1213.7 1229.1 1216.8 1234.7 1218.5 1238.8 C1220.2 1242.9 1221.1 1247.5 1221.1 1251.8 C1221.1 1256.1 1220.2 1261 1218.5 1264.8 C1216.8 1268.6 1213.5 1273.3 1210.7 1274.4 C1207.9 1275.5 1204 1274.1 1201.6 1271.2 C1199.2 1268.3 1197.4 1261.8 1196.4 1257 C1195.4 1252.2 1195.1 1247.7 1195.7 1242.7 C1196.3 1237.7 1199.5 1229.8 1200.3 1227.2 M1200.3 1226.4 L1254.8 1223.3 M1210.7 1274.4 L1260 1271.2 M1254.8 1223.3 C1256.1 1225 1260.6 1229.4 1262.5 1233.7 C1264.4 1238 1266.2 1244 1266.4 1249.2 C1266.6 1254.4 1265 1261 1263.8 1264.8 C1262.6 1268.6 1260.1 1270.6 1259.4 1271.8 M1253.5 1219.4 C1255 1219.1 1259.7 1216.5 1262.5 1217.6 C1265.3 1218.7 1268.1 1221.9 1270.3 1225.9 C1272.5 1229.9 1274.4 1235.8 1275.5 1241.4 C1276.6 1247 1277.2 1254.6 1276.8 1259.6 C1276.4 1264.6 1275.1 1268.3 1272.9 1271.2 C1270.7 1274.1 1266.8 1276.6 1263.8 1277 C1260.8 1277.4 1256.3 1274.3 1254.8 1273.8 M1275.5 1264.8 C1280.7 1268.7 1295.4 1281.4 1306.6 1288.1 C1317.8 1294.8 1330.4 1299.7 1342.9 1304.9 C1355.4 1310.1 1367.3 1315.5 1381.8 1319.2 C1396.3 1322.9 1422 1325.7 1430 1327 M1247 1273.8 C1250 1277 1257.8 1287 1265.1 1293.3 C1272.4 1299.6 1281.1 1305.8 1291.1 1311.4 C1301 1317 1311.8 1321.8 1324.8 1327 C1337.8 1332.2 1351.3 1338.2 1368.8 1342.5 C1386.3 1346.8 1419.8 1351.2 1430 1352.9 M1575.2 990 L1545.4 1185.7 M1545.4 1185.7 L1573.9 1202.6 M1623.1 990 L1573.9 1202.6 M1649 990 L1575.2 1201.3 M1573.9 1202.6 L1673.7 1180.5 M1642.6 1014.6 C1643.7 1015.5 1649.9 1016.1 1649 1019.8 C1648.1 1023.5 1640.2 1031.3 1637.4 1036.7 C1634.6 1042.1 1632.6 1048.5 1632.2 1052.2 C1631.8 1055.9 1632.7 1057.6 1634.8 1058.7 C1636.9 1059.8 1636.7 1060.2 1645.1 1058.7 C1653.5 1057.2 1678.6 1051.1 1685.3 1049.6 M1642.6 1014.6 C1665.5 1034 1754 1109.9 1779.9 1131.3 C1805.8 1152.7 1792.9 1138.4 1798.1 1142.9 C1803.3 1147.4 1806.7 1152 1811 1158.5 C1815.3 1165 1820.1 1173.6 1824 1181.8 C1827.9 1190 1828.8 1194.7 1834.4 1207.7 C1840 1220.7 1851.7 1246.2 1857.7 1259.6 C1863.8 1273 1867.9 1279.9 1870.7 1288.1 C1873.5 1296.3 1875 1301 1874.6 1308.8 C1874.2 1316.6 1872.2 1320.5 1868.1 1334.8 C1864 1349.1 1855.1 1376.9 1849.9 1394.4 C1844.7 1411.9 1839.2 1432.4 1837 1440 M1663.3 990 C1684.9 1005.5 1765.7 1060.8 1792.9 1083.3 C1820.1 1105.8 1818 1112.7 1826.6 1124.8 C1835.2 1136.9 1838.2 1142.9 1844.7 1155.9 C1851.2 1168.9 1859.6 1189.2 1865.5 1202.6 C1871.4 1216 1877.6 1230.7 1880 1236.3 M1621.8 1104.1 C1631.3 1102 1668.2 1093.1 1678.8 1091.6 C1689.4 1090.1 1684 1092.5 1685.3 1095 C1686.6 1097.5 1687.7 1101.6 1686.6 1106.6 C1685.5 1111.6 1682.2 1120.5 1678.8 1124.8 C1675.3 1129.1 1677.1 1129.1 1665.9 1132.6 C1654.7 1136 1621.7 1144 1611.5 1145.5 C1601.3 1147 1606.1 1144.2 1605 1141.6 C1603.9 1139 1603.9 1134.8 1605 1130 C1606.1 1125.2 1608.7 1117.4 1611.5 1113.1 C1614.3 1108.8 1620.1 1105.6 1621.8 1104.1 M1715.1 1075.5 C1712.5 1085.5 1704.3 1119.2 1699.6 1135.2 C1694.8 1151.2 1690.9 1164 1686.6 1171.5 C1682.3 1179 1675.8 1179 1673.7 1180.5 M1711.2 1072.9 C1708.4 1083.3 1699.8 1118.8 1694.4 1135.2 C1689 1151.6 1681.4 1165.5 1678.8 1171.5 M1739.8 1093.7 C1736.5 1105.8 1724.6 1147.3 1720.3 1166.3 C1716 1185.3 1714.9 1200.8 1713.8 1207.7 M1713.8 1207.7 L1699.6 1211.6 M1751.4 1104.1 C1748 1115.3 1736.8 1153.8 1730.7 1171.5 C1724.7 1189.2 1719.8 1200.8 1715.1 1210.3 C1710.3 1219.8 1708 1223.5 1702.2 1228.5 C1696.4 1233.5 1683.8 1238.2 1680.1 1240.1 M1779.9 1131.3 C1777.3 1139.7 1769.2 1167.3 1764.4 1181.8 C1759.7 1196.3 1755.7 1208.6 1751.4 1218.1 C1747.1 1227.6 1745 1231 1738.5 1238.8 C1732 1246.6 1722.5 1258.5 1712.5 1264.8 C1702.5 1271.1 1688.7 1274 1678.8 1276.4 C1668.9 1278.8 1660.2 1279.4 1652.9 1279 C1645.6 1278.6 1640.2 1275.7 1634.8 1273.8 C1629.4 1271.9 1622.9 1268.5 1620.5 1267.4 M1686.6 1171.5 C1685.3 1175 1683.5 1184 1678.8 1192.2 C1674 1200.4 1675.4 1214.4 1658.1 1220.7 C1640.8 1227 1598.5 1229.2 1575.2 1229.8 C1551.9 1230.4 1534.9 1227.4 1518.1 1224.6 C1501.2 1221.8 1488.8 1218.5 1474.1 1212.9 C1459.4 1207.3 1437.3 1194.6 1430 1190.9 M1658.1 1220.7 C1656.6 1222 1661.1 1225 1649 1228.5 C1636.9 1232 1604.7 1239 1585.5 1241.4 C1566.3 1243.8 1551 1243.8 1533.7 1242.7 C1516.4 1241.6 1499.1 1238.9 1481.8 1235 C1464.5 1231.1 1438.6 1222 1430 1219.4 M1649 1228.5 C1646.2 1229.8 1642.8 1233.5 1632.2 1236.3 C1621.6 1239.1 1600.2 1243.1 1585.5 1245.3 C1570.8 1247.5 1555.8 1248.5 1544.1 1249.2 C1532.4 1249.9 1528 1250.7 1515.5 1249.2 C1503 1247.7 1483.2 1243.8 1468.9 1240.1 C1454.7 1236.4 1436.5 1229.3 1430 1227.2 M1699.6 1211.6 C1696.1 1216.3 1687.9 1232.1 1678.8 1240.1 C1669.7 1248.1 1654.8 1255 1645.1 1259.6 C1635.4 1264.1 1634.8 1264.6 1620.5 1267.4 C1606.2 1270.2 1577.5 1274.9 1559.6 1276.4 C1541.7 1277.9 1528 1277.5 1512.9 1276.4 C1497.8 1275.3 1482.7 1273 1468.9 1270 C1455.1 1267 1436.5 1260.2 1430 1258.3 M1493.5 1275.1 L1476.7 1314 M1430 1328.3 C1434.3 1328.1 1449 1328.1 1455.9 1327 C1462.8 1325.9 1468 1324 1471.5 1321.8 C1475 1319.6 1474.5 1313.6 1476.7 1314 C1478.9 1314.4 1482.9 1320.5 1484.4 1324.4 C1485.9 1328.3 1486.6 1333.3 1485.7 1337.4 C1484.8 1341.5 1483.4 1346.4 1479.3 1349 C1475.2 1351.6 1469.3 1352 1461.1 1352.9 C1452.9 1353.8 1435.2 1354 1430 1354.2 M1759.2 1188.3 L1812.3 1163.7 M1754 1202.6 L1824 1180.5 M1738.5 1238.8 L1833.1 1205.1 M1735.9 1245.3 C1740.7 1248.1 1755.8 1258.1 1764.4 1262.2 C1773 1266.3 1779.5 1268.5 1787.7 1270 C1795.9 1271.5 1801.9 1273.2 1813.6 1271.2 C1825.3 1269.2 1850.3 1260.5 1857.7 1258.3 M1712.5 1264.8 C1717.3 1267.8 1732 1277.3 1741.1 1282.9 C1750.2 1288.5 1758.4 1295.2 1767 1298.5 C1775.6 1301.8 1784.3 1302.2 1792.9 1302.4 C1801.5 1302.6 1806.3 1303 1818.8 1299.8 C1831.3 1296.5 1859.9 1285.7 1868.1 1282.9 M1880 1384 L1862.9 1440 M1849.9 1142.9 L1880 1137.8 M1686.6 990 C1687 991.7 1686.2 997.4 1689.2 1000.4 C1692.2 1003.4 1700 1006.8 1704.8 1008.1 C1709.5 1009.4 1714.5 1009.4 1717.7 1008.1 C1720.9 1006.8 1722.9 1003.4 1724.2 1000.4 C1725.5 997.4 1725.3 991.7 1725.5 990 M1759.2 1018.5 L1769.6 1023.7 M1756.6 1028.9 L1767 1032.8 M1754 1038 L1764.4 1043.1 M1755.3 1045.7 L1764.4 1050.9 M1764.4 1010.7 C1763.1 1013.7 1758.3 1023.7 1756.6 1028.9 C1754.9 1034.1 1754 1038.6 1754 1041.8 C1754 1045 1756.2 1047.2 1756.6 1048.3 M1774.8 997.8 C1774.4 1000.8 1773.5 1006.4 1772.2 1015.9 C1770.9 1025.4 1768.3 1046.6 1767 1054.8 C1765.7 1063 1763.1 1062 1764.4 1065.2 C1765.7 1068.4 1770.5 1072.3 1774.8 1074.2 C1779.1 1076.1 1786.2 1077.4 1790.3 1076.8 C1794.4 1076.2 1796.8 1074.9 1799.4 1070.4 C1802 1065.9 1804.8 1053.1 1805.9 1049.6 M1880 1001.7 C1871.5 1004.5 1840.3 1014 1829.2 1018.5 C1818.1 1023 1817 1025 1813.6 1028.9 C1810.1 1032.8 1810.7 1034.9 1808.5 1041.8 C1806.3 1048.7 1802 1065.6 1800.7 1070.4 M1787.7 1000.4 C1786 1002.5 1780.4 1006.4 1777.4 1013.3 C1774.4 1020.2 1770.9 1037 1769.6 1041.8 M1813.6 1039.3 C1816 1038.9 1826 1035 1827.9 1036.7 C1829.9 1038.4 1824.2 1046.4 1825.3 1049.6 C1826.4 1052.8 1830.7 1055.2 1834.4 1056.1 C1838.1 1057 1844.3 1057.6 1847.3 1054.8 C1850.3 1052 1851.6 1041.9 1852.5 1039.3 M1812.3 1041.8 C1812.1 1044.4 1809 1053.1 1811 1057.4 C1813 1061.7 1818.8 1065.8 1824 1067.8 C1829.2 1069.8 1837.2 1070 1842.2 1069.1 C1847.2 1068.2 1851.7 1065.8 1853.8 1062.6 C1855.9 1059.3 1854.9 1051.8 1855.1 1049.6 M1805.9 1065.2 C1806.3 1066.9 1805.5 1072.5 1808.5 1075.5 C1811.5 1078.5 1818.4 1082 1824 1083.3 C1829.6 1084.6 1838.1 1084.2 1842.2 1083.3 C1846.3 1082.4 1847.3 1081.1 1848.6 1078.1 C1849.9 1075.1 1849.7 1067.3 1849.9 1065.2 M1803.3 1075.5 C1804.2 1077.2 1804.6 1083.3 1808.5 1085.9 C1812.4 1088.5 1821 1090.4 1826.6 1091.1 C1832.2 1091.8 1838.8 1091.5 1842.2 1089.8 C1845.7 1088.1 1846.5 1082.2 1847.3 1080.7 M1860.3 1014.6 L1880 1026.3 M1860.3 1054.8 L1880 1067.8 M1880 1001.7 L1905.9 991.3 M2017.4 1010.2 C2016.1 1014.6 2013.5 1025 2009.6 1036.7 C2005.7 1048.5 1998.6 1069.1 1994.1 1080.7 C1989.6 1092.3 1985.4 1100.3 1982.4 1106.6 C1979.4 1112.9 1978.3 1115.3 1975.9 1118.3 C1973.5 1121.3 1973.3 1121.8 1968.1 1124.8 C1962.9 1127.8 1956.5 1132 1944.8 1136.5 C1933.1 1141 1906.7 1148.3 1898.1 1152 C1889.5 1155.7 1894 1155.7 1893 1158.5 C1892 1161.3 1891.6 1165.7 1892.4 1168.9 C1893.2 1172.1 1895.8 1176.2 1898.1 1177.9 C1900.3 1179.6 1896 1182 1905.9 1179.2 C1915.9 1176.4 1944.8 1165.8 1957.8 1161.1 C1970.8 1156.3 1977.2 1154.6 1983.7 1150.7 C1990.2 1146.8 1993.1 1143 1996.6 1137.8 C2000 1132.6 2001.4 1127.8 2004.4 1119.6 C2007.4 1111.4 2010.5 1100.2 2014.8 1088.5 C2019.1 1076.8 2025.3 1061 2030.3 1049.6 C2035.3 1038.1 2042.2 1024.8 2044.6 1019.8 M1880 1030.2 C1885.2 1034.7 1900.7 1049 1911.1 1057.4 C1921.5 1065.8 1934 1073.8 1942.2 1080.7 C1950.4 1087.6 1955.9 1093.7 1960.4 1098.9 C1964.9 1104.1 1967.6 1108.3 1969.4 1111.8 C1971.2 1115.2 1970.9 1118.3 1971.2 1119.6 M2010.9 1026.3 L1942.2 1080.7 M1880 1071.7 C1886 1076.7 1907.2 1093.5 1916.3 1101.5 C1925.4 1109.5 1929.9 1114.4 1934.4 1119.6 C1938.9 1124.8 1941.5 1129.8 1943.5 1132.6 C1945.5 1135.4 1945.7 1135.8 1946.1 1136.5 M1880 1135.2 L1920.2 1126.1 M1959.1 1161.1 C1961 1165.4 1966.6 1178.3 1970.7 1187 C1974.8 1195.7 1981.5 1209 1983.7 1213.4 M1985 1150.7 C1987.4 1155.9 1995.1 1172.8 1999.2 1181.8 C2003.3 1190.8 2007.9 1200.8 2009.6 1204.6 M2063.5 1186.5 C2054.5 1189.5 2022.9 1200.1 2009.6 1204.6 C1996.3 1209.1 1996.7 1208.8 1983.7 1213.4 C1970.7 1218 1941.2 1228.2 1931.8 1232.4 C1922.4 1236.6 1928 1236.4 1927.2 1238.8 C1926.4 1241.2 1926.4 1244 1927.2 1246.6 C1928 1249.2 1929.5 1252.7 1931.8 1254.4 C1934.1 1256.1 1930.5 1259.4 1940.9 1257 C1951.3 1254.6 1980.7 1244.4 1994.1 1240.1 C2007.5 1235.8 2007 1236.1 2021.3 1231.1 C2035.5 1226.1 2069.9 1213.8 2079.6 1210.3 M1994.1 1240.1 C1995.4 1242.9 1999.9 1251.2 2001.8 1257 C2003.7 1262.8 2005.2 1268.6 2005.2 1275.1 C2005.2 1281.6 2004.1 1287.2 2001.8 1295.9 C1999.5 1304.6 1995.4 1315.3 1991.5 1327 C1987.6 1338.7 1983.3 1353 1978.5 1365.9 C1973.7 1378.9 1968.3 1392.4 1962.9 1404.7 C1957.5 1417 1948.9 1434.1 1946.1 1440 M2021.3 1231.1 C2023 1234.5 2029.2 1244.5 2031.6 1251.8 C2034 1259.1 2035.5 1267.8 2035.5 1275.1 C2035.5 1282.4 2034.2 1286.4 2031.6 1295.9 C2029 1305.4 2024.5 1318.4 2020 1332.2 C2015.5 1346 2009.6 1364.5 2004.4 1378.8 C1999.2 1393 1993.4 1407.5 1988.9 1417.7 C1984.4 1427.9 1979.2 1436.3 1977.2 1440 M1912.4 1297.2 L1990.2 1279 M1880 1236.3 C1881.7 1240.2 1887 1252.3 1890.4 1259.6 C1893.9 1266.9 1898.3 1274.2 1900.7 1280.3 C1903.1 1286.3 1903.9 1290.3 1904.6 1295.9 C1905.2 1301.5 1906.1 1307.1 1904.6 1314 C1903.1 1320.9 1899.7 1326.2 1895.6 1337.4 C1891.5 1348.6 1882.6 1374.1 1880 1381.4 M1830.6 1441.9 C1829.8 1447.3 1826.1 1466.1 1825.8 1474.2 C1825.5 1482.3 1826.4 1484.9 1828.6 1490.3 C1830.8 1495.7 1833 1501.1 1838.7 1506.5 C1844.4 1511.9 1855.5 1518.9 1862.9 1522.6 C1870.3 1526.3 1876.4 1528.3 1883.1 1528.6 C1889.8 1528.9 1894.5 1528.3 1903.2 1524.6 C1911.9 1520.9 1926.1 1514.2 1935.5 1506.5 C1944.9 1498.8 1951.6 1490.3 1959.7 1478.2 C1967.8 1466.1 1979.9 1441.3 1983.9 1433.9 M1854.8 1458.1 C1854.1 1463.5 1850.8 1480.2 1850.8 1490.3 C1850.8 1500.4 1854.1 1513.8 1854.8 1518.5 M1864.9 1512.5 C1870 1510.5 1886.1 1505.4 1895.2 1500.4 C1904.3 1495.4 1911.4 1490.7 1919.4 1482.3 C1927.5 1473.9 1936.1 1462.1 1943.5 1450 C1950.9 1437.9 1960.3 1416.4 1963.7 1409.7" fill="none" stroke="#000" stroke-width="1.3" stroke-linejoin="round" shape-rendering="crispEdges"/>
<path d="M1689.2 874.4 C1697 877.2 1714.3 886.2 1735.9 891.2 C1757.5 896.2 1805 902 1818.8 904.2" fill="none" stroke="#000" stroke-width="2"/>
<path d="M1686.6 882.2 C1694.8 885 1713.9 894.2 1735.9 899 C1757.9 903.8 1805 908.8 1818.8 910.7" fill="none" stroke="#000" stroke-width="2"/>
<path d="M1587.6 445.1 C1587.2 446.4 1587.6 444.7 1585.5 452.9 C1583.4 461.1 1579.5 479.9 1575.2 494.4 C1570.9 508.9 1562.8 529 1559.6 540 C1556.3 551 1555.3 554.2 1555.7 560.7 C1556.1 567.2 1559.4 573.7 1562.2 578.9 C1565 584.1 1568.7 585.3 1572.6 591.8 C1576.5 598.3 1581.6 612.2 1585.5 617.8 C1589.4 623.4 1583.8 620.5 1595.9 625.5 C1608 630.5 1645.1 641.1 1658.1 647.6 C1671.1 654.1 1666.8 656.4 1673.7 664.4 C1680.6 672.4 1695.3 688.6 1699.6 695.5 C1703.9 702.4 1701.8 703.1 1699.6 705.9 C1697.4 708.7 1690.9 711.1 1686.6 712.4 C1682.3 713.7 1673.3 711.3 1673.7 713.7 C1674.1 716.1 1681.4 720.1 1689.2 726.6 C1697 733.1 1713.8 745.7 1720.3 752.6 C1726.8 759.5 1726.4 762.5 1728.1 768.1 C1729.8 773.7 1731.6 780.2 1730.7 786.3 C1729.8 792.3 1727.2 800.1 1722.9 804.4 C1718.6 808.7 1711.7 809.2 1704.8 812.2 C1697.9 815.2 1686.7 817.8 1681.4 822.5 C1676.1 827.2 1675.5 834.7 1673.1 840.7 C1670.6 846.8 1668.5 852.8 1666.7 858.8 C1664.9 864.8 1663.2 869.6 1662 877 C1660.8 884.4 1659 896 1659.4 902.9 C1659.8 909.8 1661.4 914.2 1664.6 918.5 C1667.8 922.8 1672.1 925.3 1678.8 928.8 C1685.5 932.2 1698.8 936.4 1704.8 939.2 C1710.8 942 1709.9 944 1715.1 945.7 C1720.3 947.4 1727.7 949 1735.9 949.6 C1744.1 950.2 1758.8 947.9 1764.4 949.6 C1770 951.3 1768.7 954.7 1769.6 959.9 C1770.5 965.1 1770.5 975.1 1769.6 980.7 C1768.7 986.3 1765.3 991.5 1764.4 993.6" fill="none" stroke="#000" stroke-width="11.5" stroke-linejoin="round" stroke-linecap="round"/>
<path d="M1678.8 712.4 C1675.3 711.3 1665.4 710.4 1658.1 705.9 C1650.8 701.4 1640.4 690 1634.8 685.2 C1629.2 680.5 1625.7 680.9 1624.4 677.4 C1623.1 673.9 1624.8 667.3 1627 664.4 C1629.2 661.5 1634 659.8 1637.4 659.8 C1640.9 659.8 1646 663.6 1647.7 664.4" fill="none" stroke="#000" stroke-width="10" stroke-linejoin="round" stroke-linecap="round"/>
<circle cx="1588.1" cy="443.8" r="10.5" fill="#000"/>
<circle cx="1564.8" cy="593.1" r="10.5" fill="#000"/>
<circle cx="1559.6" cy="599.6" r="8" fill="#000"/>
<circle cx="1726" cy="773.3" r="8.5" fill="#000"/>
<circle cx="1727.1" cy="785" r="8.5" fill="#000"/>
<circle cx="1725.5" cy="794" r="7.5" fill="#000"/>
<circle cx="1676" cy="869.7" r="8.5" fill="#000"/>
<circle cx="1637.4" cy="664.4" r="9.5" fill="#000"/>
<circle cx="1759.5" cy="996.5" r="10.5" fill="#000"/>
<circle cx="1663.3" cy="708.5" r="8" fill="#000"/>
<circle cx="1694.4" cy="698.1" r="8" fill="#000"/>
<circle cx="1629.6" cy="674.8" r="1.6" fill="#fff"/>
<circle cx="1633.5" cy="681.3" r="1.6" fill="#fff"/>
<circle cx="1663.3" cy="709.8" r="1.6" fill="#fff"/>
<circle cx="1673.7" cy="717.6" r="1.6" fill="#fff"/>
<circle cx="1694.4" cy="697.6" r="1.6" fill="#fff"/>
<circle cx="1686.6" cy="690.3" r="1.6" fill="#fff"/>
<path d="M1650.3 672.2 L1658.1 664.4 L1678.8 690.3 L1671.1 698.1Z" fill="#fff" stroke="#000" stroke-width="1.3"/>
<path d="M1655.5 674.8 L1663.3 683.9" fill="none" stroke="#000" stroke-width="1.3"/>
</g>
<g id="tubes">
<path d="M465 229.8 L396.9 477 A80 80 0 0 1 394.6 484.1 L313.9 697.8 A165 165 0 0 0 322.6 833.6 L378 937.6" fill="none" stroke="#000" stroke-width="40.2" stroke-linejoin="round"/><path d="M465.4 228.4 L396.9 477 A80 80 0 0 1 394.6 484.1 L313.9 697.8 A165 165 0 0 0 322.6 833.6 L378.7 938.9" fill="none" stroke="#fff" stroke-width="27" stroke-linejoin="round"/>
<path d="M383 950 L464.8 1102.4 A115 115 0 0 0 527.8 1156.4 L820.8 1260.1 A140 140 0 0 1 884.1 1305.5 L996 1447.6" fill="none" stroke="#000" stroke-width="41" stroke-linejoin="round"/><path d="M382.3 948.7 L464.8 1102.4 A115 115 0 0 0 527.8 1156.4 L820.8 1260.1 A140 140 0 0 1 884.1 1305.5 L996.9 1448.8" fill="none" stroke="#fff" stroke-width="27.4" stroke-linejoin="round"/>
<path d="M990 1666.6 L1171.1 1817.5 A160 160 0 0 1 1227.2 1962.7 L1225 1978" fill="none" stroke="#000" stroke-width="40" stroke-linejoin="round"/><path d="M988.8 1665.6 L1171.1 1817.5 A160 160 0 0 1 1227.2 1962.7 L1224.8 1979.5" fill="none" stroke="#fff" stroke-width="27" stroke-linejoin="round"/>
<path d="M1209.6 2032 L1202.3 2067 A70 70 0 0 1 1165 2115.3 L996 2199.4 A80 80 0 0 0 956.2 2244.5 L929 2322" fill="none" stroke="#000" stroke-width="40" stroke-linejoin="round"/><path d="M1209.9 2030.5 L1202.3 2067 A70 70 0 0 1 1165 2115.3 L996 2199.4 A80 80 0 0 0 956.2 2244.5 L928.5 2323.4" fill="none" stroke="#fff" stroke-width="27" stroke-linejoin="round"/>
<path d="M867.1 2522 L862.2 2537.7 A215 215 0 0 0 852.6 2601.3 L852.6 2617.1 A112 112 0 0 0 911.1 2715.5 L1154.9 2847.9 A240 240 0 0 0 1269.5 2877 L1396 2877 C1397.4 2877.1 1399.8 2876.6 1404.2 2877.3 C1408.6 2878 1416.8 2879.1 1422.3 2881.1 C1427.8 2883.1 1432.4 2885.9 1436.9 2889.6 C1441.4 2893.2 1445.7 2897.7 1449.2 2903 C1452.7 2908.3 1455.5 2914.9 1457.9 2921.7 C1460.3 2928.5 1462.2 2936.3 1463.4 2943.9 C1464.6 2951.5 1464.9 2958.4 1464.8 2967.3 C1464.7 2976.2 1463.8 2988.8 1462.6 2997.6 C1461.4 3006.4 1459.8 3013.2 1457.9 3019.9 C1456.1 3026.6 1453.8 3032 1451.5 3038 C1449.2 3044 1445.2 3053 1444 3056" fill="none" stroke="#000" stroke-width="40" stroke-linejoin="round"/><path d="M867.5 2520.6 L862.2 2537.7 A215 215 0 0 0 852.6 2601.3 L852.6 2617.1 A112 112 0 0 0 911.1 2715.5 L1154.9 2847.9 A240 240 0 0 0 1269.5 2877 L1396 2877 C1397.4 2877.1 1399.8 2876.6 1404.2 2877.3 C1408.6 2878 1416.8 2879.1 1422.3 2881.1 C1427.8 2883.1 1432.4 2885.9 1436.9 2889.6 C1441.4 2893.2 1445.7 2897.7 1449.2 2903 C1452.7 2908.3 1455.5 2914.9 1457.9 2921.7 C1460.3 2928.5 1462.2 2936.3 1463.4 2943.9 C1464.6 2951.5 1464.9 2958.4 1464.8 2967.3 C1464.7 2976.2 1463.8 2988.8 1462.6 2997.6 C1461.4 3006.4 1459.8 3013.2 1457.9 3019.9 C1456.1 3026.6 1453.8 3032 1451.5 3038 C1449.2 3044 1445.3 3052.8 1444 3056 C1442.7 3059.2 1443.5 3057.2 1443.4 3057.4" fill="none" stroke="#fff" stroke-width="27" stroke-linejoin="round"/>
</g>
<g id="fit">
<path d="M451.5 140.7 L448.2 133.3 L447.8 120.4 L478.2 104.7 L519.7 117.6 L533.5 145.3 L533.5 152.7 L520.6 160" fill="none" stroke="#000" stroke-width="6" stroke-linejoin="round" stroke-linecap="round"/>
<path d="M451.5 140.7 C455.3 140.7 466.1 139.5 474.5 140.7 C482.9 141.9 495.3 145.5 502.2 148.1 C509.1 150.7 512.9 154.4 516 156.4 C519.1 158.4 519.8 159.4 520.6 160" fill="none" stroke="#000" stroke-width="6" stroke-linejoin="round" stroke-linecap="round"/>
<path d="M451.5 142.1 L441.3 149.9 L434.9 166.5 L434 176.6 L437.6 191.4 L444.1 200.6" fill="none" stroke="#000" stroke-width="6" stroke-linejoin="round" stroke-linecap="round"/>
<path d="M520.6 160 L524.3 172.9 L524.3 182.2 L518.8 201.5 L506.8 211.7 L498.5 213.5" fill="none" stroke="#000" stroke-width="6" stroke-linejoin="round" stroke-linecap="round"/>
<path d="M447.3 187.7 L447.3 231 L442.4 250" fill="none" stroke="#000" stroke-width="6" stroke-linejoin="round" stroke-linecap="round"/>
<path d="M502.2 204.7 L498.5 213.5 L491.1 219 L480 233.8 L476.5 250" fill="none" stroke="#000" stroke-width="6" stroke-linejoin="round" stroke-linecap="round"/>
<path d="M453.3 125 L474.5 112.1 L478.2 108" fill="none" stroke="#000" stroke-width="1.1" stroke-linejoin="round" shape-rendering="crispEdges"/>
<path d="M474.5 112.1 L483.7 115.8 L516.9 122.3 L528.9 145.3" fill="none" stroke="#000" stroke-width="1.1" stroke-linejoin="round" shape-rendering="crispEdges"/>
<path d="M518.8 124.1 L529.8 146.2 L528.9 149" fill="none" stroke="#000" stroke-width="1.1" stroke-linejoin="round" shape-rendering="crispEdges"/>
<path d="M453.3 125 L453.3 136.1" fill="none" stroke="#000" stroke-width="1.1" stroke-linejoin="round" shape-rendering="crispEdges"/>
<path d="M457 133.3 C457.8 132.4 459.5 129.2 461.6 127.8 C463.8 126.4 465 125.4 469.9 125 C474.8 124.6 483.7 123.7 491.1 125.5 C498.5 127.3 509.2 132.7 514.1 136.1 C519 139.5 519.3 143.4 520.6 146.2 C521.9 149 522 151.2 522 152.7 C522 154.2 520.8 154.9 520.6 155.4" fill="none" stroke="#000" stroke-width="1.1" stroke-linejoin="round" shape-rendering="crispEdges"/>
<path d="M465.3 142.5 L464.4 153.6 L462.1 161 L451.5 167.4" fill="none" stroke="#000" stroke-width="1.1" stroke-linejoin="round" shape-rendering="crispEdges"/>
<path d="M462.1 161 L479.1 167.4 L503.1 172.5 L505.9 163.7 L507.7 155.4" fill="none" stroke="#000" stroke-width="1.1" stroke-linejoin="round" shape-rendering="crispEdges"/>
<path d="M503.1 172.5 L507.7 184 L513.2 196" fill="none" stroke="#000" stroke-width="1.1" stroke-linejoin="round" shape-rendering="crispEdges"/>
<path d="M439.5 174.8 C441 174 444.4 171.3 448.7 170.2 C453 169.1 459.5 168 465.3 168.3 C471.1 168.6 478.2 170.3 483.7 172 C489.2 173.7 494.6 175.9 498.5 178.5 C502.4 181.1 505 184.8 506.8 187.7 C508.6 190.6 509 193.2 509.1 196 C509.2 198.8 508.6 202.5 507.7 204.3 C506.8 206.2 504.6 206.6 504 207.1" fill="none" stroke="#000" stroke-width="2.5" stroke-linejoin="round"/>
<path d="M447.8 185.9 C448.9 184.9 451.3 181.2 454.2 179.9 C457.1 178.6 461 178 465.3 178 C469.6 178 475.4 178.6 480 179.9 C484.6 181.2 489.4 183.5 492.9 185.9 C496.4 188.3 499.5 191 501.2 194.1 C502.9 197.2 502.8 202.6 503.1 204.3" fill="none" stroke="#000" stroke-width="1.1" stroke-linejoin="round" shape-rendering="crispEdges"/>
<path d="M451 223.6 C452.8 223.5 458 222.6 461.6 223.2 C465.2 223.8 469.9 225.7 472.7 227.3 C475.5 228.9 477.7 232 478.7 232.9" fill="none" stroke="#000" stroke-width="1.1" stroke-linejoin="round" shape-rendering="crispEdges"/>
<path d="M355.9 936 L367.9 935.5 L377 932.1 L383.5 924.7 L385.7 917.4 L393.9 913.5 L405.1 921.3 L405.1 929.9 L410.3 932.1 L417.2 938.6 L421.5 947.2 L423.2 956.7 L419.8 967.1 L412 974.9 L399.9 982.6 L382.6 988.7 L359.3 988.7 L357.6 980 L361 972.3 L354.1 957.6 L343.8 956.7 L339.4 947.2 L347.2 935.1Z" fill="#fff" stroke="none"/>
<path d="M379.2 899.3 C380.5 899.2 384.1 898.3 387 898.8 C389.9 899.3 394.1 900.3 396.5 902.3 C398.9 904.3 400.2 908 401.6 910.9 C403 913.8 404.5 916.4 405.1 919.6 C405.7 922.8 405.1 928.2 405.1 929.9" fill="none" stroke="#000" stroke-width="3.5" stroke-linejoin="round" stroke-linecap="round"/>
<path d="M405.1 929.9 C404.5 930.8 403.9 932.5 401.6 935.1 C399.3 937.7 395.6 942.5 391.3 945.5 C387 948.5 380.8 951.4 375.7 953.3 C370.6 955.2 366.3 956.1 361 956.7 C355.7 957.3 346.7 956.7 343.8 956.7" fill="none" stroke="#000" stroke-width="4.5" stroke-linejoin="round" stroke-linecap="round"/>
<path d="M343.8 956.7 L339.4 947.2 L347.2 935.1 L355.9 934.7" fill="none" stroke="#000" stroke-width="3.5" stroke-linejoin="round" stroke-linecap="round"/>
<path d="M355.9 934.7 C357.9 934.6 364.4 934.9 367.9 934.3 C371.3 933.6 374.2 932.5 376.6 930.8 C379.1 929.1 381.3 926.2 382.6 923.9 C383.9 921.6 384.1 918.1 384.4 917" fill="none" stroke="#000" stroke-width="3.5" stroke-linejoin="round" stroke-linecap="round"/>
<path d="M379.2 899.3 L384.4 910.9" fill="none" stroke="#000" stroke-width="3.5" stroke-linejoin="round" stroke-linecap="round"/>
<path d="M340.3 947.2 C344.1 947.2 356.2 948.4 362.8 947.2 C369.4 946.1 375 943.2 380 940.3 C385 937.4 389.8 933.3 393 929.9 C396.2 926.5 397.8 922.3 399.1 919.6 C400.4 916.9 400.5 914.5 400.8 913.5" fill="none" stroke="#000" stroke-width="1.1" stroke-linejoin="round" shape-rendering="crispEdges"/>
<path d="M401.6 932.1 C403.1 932.1 407.7 931 410.3 932.1 C412.9 933.2 415.3 936.1 417.2 938.6 C419.1 941.1 420.5 944.2 421.5 947.2 C422.5 950.2 423.5 953.4 423.2 956.7 C422.9 960 421.7 964.1 419.8 967.1 C417.9 970.1 415.3 972.3 412 974.9 C408.7 977.5 404.8 980.3 399.9 982.6 C395 984.9 389.4 987.7 382.6 988.7 C375.8 989.7 363.2 988.7 359.3 988.7" fill="none" stroke="#000" stroke-width="3.5" stroke-linejoin="round" stroke-linecap="round"/>
<path d="M359.3 988.7 L357.6 980 L361 972.3 L358.4 964.5 L354.1 957.6" fill="none" stroke="#000" stroke-width="3.5" stroke-linejoin="round" stroke-linecap="round"/>
<path d="M401.6 932.1 L401.2 936.8" fill="none" stroke="#000" stroke-width="3.5" stroke-linejoin="round" stroke-linecap="round"/>
<path d="M402.5 936.8 C403.4 938.2 406.8 942.9 407.7 945.5 C408.6 948.1 408.4 949.8 407.7 952.4 C407 955 405.8 958.4 403.4 961 C400.9 963.6 396.5 966.2 393 967.9 C389.5 969.6 387.6 970.8 382.6 971.4 C377.6 972 366.1 971.4 362.8 971.4" fill="none" stroke="#000" stroke-width="1.1" stroke-linejoin="round" shape-rendering="crispEdges"/>
<path d="M418.1 952.4 C417.5 953.7 416.6 957.6 414.6 960.2 C412.6 962.8 409.6 965.5 406 967.9 C402.4 970.3 397 973 393 974.9 C389 976.8 387.6 978.5 381.8 979.2 C376 979.9 362.3 979.2 358.4 979.2" fill="none" stroke="#000" stroke-width="1.1" stroke-linejoin="round" shape-rendering="crispEdges"/>
<path d="M341.2 911.8 L332.5 923 L331.7 930.8 L336.4 932.1 L300.6 983.5 L297.1 993.9 L296.7 1006 L299.7 1016.3 L308.3 1024.1 L324.7 1024.1 L329.9 1018.1 L354.1 980 L359.3 974.9" fill="none" stroke="#000" stroke-width="3.5" stroke-linejoin="round" stroke-linecap="round"/>
<path d="M329.1 927.3 L342 927.3 L352.4 929.5" fill="none" stroke="#000" stroke-width="1.1" stroke-linejoin="round" shape-rendering="crispEdges"/>
<path d="M347.2 935.5 C345.8 937 340.9 942.1 338.6 944.6 C336.3 947.1 335.7 947.7 333.4 950.7 C331.1 953.7 328.4 957 324.7 962.8 C320.9 968.5 313.8 979.5 310.9 985.2 C307.9 991 307.6 993 307 997.3 C306.4 1001.6 306.6 1007 307.5 1011.2 C308.4 1015.4 311.8 1020.5 312.6 1022.4" fill="none" stroke="#000" stroke-width="1.1" stroke-linejoin="round" shape-rendering="crispEdges"/>
<path d="M328.2 991.3 C327.5 990.6 325.6 987.4 323.9 987 C322.2 986.6 319.3 986.4 317.8 988.7 C316.3 991 315.2 997.6 314.8 1000.8 C314.4 1004 314.4 1005.6 315.2 1007.7 C316 1009.9 317.7 1013 319.6 1013.7 C321.5 1014.4 325.4 1012.3 326.5 1012" fill="none" stroke="#000" stroke-width="3.5" stroke-linejoin="round" stroke-linecap="round"/>
<path d="M319.1 994.7 L320 1009.4" fill="none" stroke="#000" stroke-width="2" stroke-linejoin="round"/>
<path d="M747 1326.9 L752.2 1314.8 L759.1 1311.3 L787.9 1319.4 L797.1 1338.4 L810.3 1358 L808.6 1369.5 L804.6 1387.9 L797.1 1391.4 L781 1388.5 L778.7 1382.2" fill="none" stroke="#000" stroke-width="6" stroke-linejoin="round" stroke-linecap="round"/>
<path d="M747 1328 C749 1330.1 755.4 1336.3 759.1 1340.7 C762.8 1345.1 766.5 1349.5 769.4 1354.5 C772.3 1359.5 774.8 1366 776.4 1370.6 C778 1375.2 778.3 1380.3 778.7 1382.2" fill="none" stroke="#000" stroke-width="6" stroke-linejoin="round" stroke-linecap="round"/>
<path d="M747 1328 L740.6 1329.2 L728 1329.2 L706.1 1340.7 L702.6 1347.6 L698.6 1366" fill="none" stroke="#000" stroke-width="6" stroke-linejoin="round" stroke-linecap="round"/>
<path d="M778.7 1382.2 C778.5 1384.9 778.9 1394.3 777.5 1398.3 C776.1 1402.3 774.6 1403.7 770.6 1406.4 C766.6 1409.1 757.7 1412.7 753.3 1414.4 C748.9 1416.1 746.4 1416.7 744.1 1416.7 C741.8 1416.7 740.5 1416.1 739.5 1414.4 C738.5 1412.7 737.9 1408.7 738.3 1406.4 C738.7 1404.1 741.2 1401.6 741.8 1400.6" fill="none" stroke="#000" stroke-width="6" stroke-linejoin="round" stroke-linecap="round"/>
<path d="M700.3 1368.7 L709.5 1363.7 L717.6 1358.8" fill="none" stroke="#000" stroke-width="6" stroke-linejoin="round" stroke-linecap="round"/>
<path d="M704.9 1362 L710.7 1357.2 L719.9 1357.4" fill="none" stroke="#000" stroke-width="4" stroke-linejoin="round" stroke-linecap="round"/>
<path d="M698.6 1366 C697.5 1366.8 695.5 1367.3 692.3 1370.6 C689.1 1373.9 682.7 1380 679.6 1385.6 C676.5 1391.2 674.8 1398.9 673.8 1404.1 C672.8 1409.3 673 1412.1 673.8 1416.7 C674.6 1421.3 674.8 1426.3 678.4 1431.7 C682 1437.1 691.5 1444.8 695.7 1449 C699.9 1453.2 697.5 1453.4 703.8 1457.1 C710.1 1460.8 728.7 1468.6 733.7 1470.9" fill="none" stroke="#000" stroke-width="6" stroke-linejoin="round" stroke-linecap="round"/>
<path d="M733.7 1470.9 L752.2 1490 L800 1528" fill="none" stroke="#000" stroke-width="6" stroke-linejoin="round" stroke-linecap="round"/>
<path d="M739.5 1414.4 L747.6 1431.7 L757.9 1451.3 L801.7 1490" fill="none" stroke="#000" stroke-width="6" stroke-linejoin="round" stroke-linecap="round"/>
<path d="M757.9 1317.6 L783.3 1323.4 L805.2 1359.1 L798.2 1385.6" fill="none" stroke="#000" stroke-width="1.1" stroke-linejoin="round" shape-rendering="crispEdges"/>
<path d="M785 1324.6 L806.9 1360.3" fill="none" stroke="#000" stroke-width="1.1" stroke-linejoin="round" shape-rendering="crispEdges"/>
<path d="M749.9 1326.9 C752.2 1326.9 759.3 1325.6 763.7 1326.9 C768.1 1328.2 772.6 1331.1 776.4 1334.9 C780.2 1338.7 784 1344.9 786.7 1349.9 C789.4 1354.9 791.6 1360.1 792.5 1364.9 C793.4 1369.7 793 1375.2 791.9 1378.7 C790.8 1382.2 786.6 1384.4 785.6 1385.6" fill="none" stroke="#000" stroke-width="1.1" stroke-linejoin="round" shape-rendering="crispEdges"/>
<path d="M711.8 1343 L724.5 1347.6 L739.5 1348.2 L754.5 1339.5" fill="none" stroke="#000" stroke-width="1.1" stroke-linejoin="round" shape-rendering="crispEdges"/>
<path d="M739.5 1348.2 L747.6 1368.3 L759.1 1385.6 L776.4 1378.1" fill="none" stroke="#000" stroke-width="1.1" stroke-linejoin="round" shape-rendering="crispEdges"/>
<path d="M759.1 1385.6 L755.6 1402.9 L747.6 1413.3" fill="none" stroke="#000" stroke-width="1.1" stroke-linejoin="round" shape-rendering="crispEdges"/>
<path d="M725.7 1348.8 C728.2 1350.9 736.4 1356 740.6 1361.4 C744.8 1366.8 748.9 1374.7 751 1381 C753.1 1387.3 753.1 1394.4 753.3 1399.4 C753.5 1404.4 752.4 1409.1 752.2 1411" fill="none" stroke="#000" stroke-width="1.1" stroke-linejoin="round" shape-rendering="crispEdges"/>
<path d="M719.9 1357.4 C721.8 1358.5 728.1 1360.5 731.4 1363.7 C734.7 1366.9 737.3 1371.4 739.5 1376.4 C741.7 1381.4 744.1 1389.9 744.7 1393.7 C745.3 1397.5 744 1397.5 742.9 1399.4 C741.8 1401.3 739.1 1404.2 738.3 1405.2" fill="none" stroke="#000" stroke-width="1.1" stroke-linejoin="round" shape-rendering="crispEdges"/>
<path d="M737.2 1411 C735.1 1411.2 729.1 1410.4 724.5 1412.1 C719.9 1413.8 713.5 1417.6 709.5 1421.3 C705.5 1425 702.5 1430.2 700.3 1434 C698.1 1437.8 697 1442.7 696.3 1444.4" fill="none" stroke="#000" stroke-width="1.1" stroke-linejoin="round" shape-rendering="crispEdges"/>
<path d="M754.5 1449.6 C752.8 1450.3 747.2 1451.8 744.1 1453.6 C741 1455.4 737.6 1458.1 736 1460.5 C734.4 1462.9 734.6 1466.8 734.3 1468" fill="none" stroke="#000" stroke-width="1.1" stroke-linejoin="round" shape-rendering="crispEdges"/>
<path d="M804.6 1490 L834.6 1516.5 L873.7 1540.7 L882.9 1543 L892.2 1542.4 L899.1 1545.3 L917.5 1560.3 L937.1 1554.5 L946.3 1532.6 L954.4 1529.7 L965.9 1533.8 L975.1 1523.4 L1000 1514.2" fill="none" stroke="#000" stroke-width="6" stroke-linejoin="round" stroke-linecap="round"/>
<path d="M800 1528 L816.1 1540.7 L846.1 1574.1 L848.4 1591.4 L853 1596 L908.3 1638.6 L912.9 1649 L922.1 1651.3 L926.7 1647.8" fill="none" stroke="#000" stroke-width="6" stroke-linejoin="round" stroke-linecap="round"/>
<path d="M918.7 1645.5 L970.5 1671.5 L995.9 1690" fill="none" stroke="#000" stroke-width="6" stroke-linejoin="round" stroke-linecap="round"/>
<path d="M953.2 1604.1 L970.5 1620.2 L988.9 1643.2 L1000 1653.6" fill="none" stroke="#000" stroke-width="6" stroke-linejoin="round" stroke-linecap="round"/>
<path d="M873.7 1544.1 C871.4 1546.6 863.5 1554.7 859.9 1559.1 C856.2 1563.5 853.7 1566.8 851.8 1570.6 C849.9 1574.4 849 1580.3 848.4 1582.2" fill="none" stroke="#000" stroke-width="3.5" stroke-linejoin="round" stroke-linecap="round"/>
<path d="M944 1555.7 C945.5 1557.2 950.5 1561.6 953.2 1564.9 C955.9 1568.2 958.4 1571.3 960.1 1575.3 C961.8 1579.3 963 1584.7 963.6 1589.1 C964.2 1593.5 963.6 1599.7 963.6 1601.8" fill="none" stroke="#000" stroke-width="4" stroke-linejoin="round" stroke-linecap="round"/>
<path d="M953.2 1604.1 L961.3 1606.4 L977.4 1613.3 L986.6 1612.1 L990.1 1605.2 L1000 1605.2" fill="none" stroke="#000" stroke-width="6" stroke-linejoin="round" stroke-linecap="round"/>
<path d="M830.5 1518.2 C828.9 1519.3 823.1 1522.4 820.7 1524.6 C818.3 1526.8 816.9 1529.2 816.1 1531.5 C815.3 1533.8 816.1 1537.2 816.1 1538.4" fill="none" stroke="#000" stroke-width="1.1" stroke-linejoin="round" shape-rendering="crispEdges"/>
<path d="M917.5 1563.7 L917.5 1570.6 L934.8 1575.3 L949.8 1590.2" fill="none" stroke="#000" stroke-width="1.1" stroke-linejoin="round" shape-rendering="crispEdges"/>
<path d="M960.1 1600.6 C959.1 1599.2 956.9 1594 954.4 1592.5 C951.9 1591 949.2 1590.4 945.2 1591.4 C941.2 1592.4 934.8 1595.2 930.2 1598.3 C925.6 1601.4 920.8 1606 917.5 1609.8 C914.2 1613.6 912.1 1616.9 910.6 1621.3 C909.1 1625.7 908.5 1632.6 908.3 1636.3 C908.1 1640 909.2 1642 909.4 1643.2" fill="none" stroke="#000" stroke-width="1.1" stroke-linejoin="round" shape-rendering="crispEdges"/>
<path d="M952.1 1600.6 C951 1600.6 948.5 1599.6 945.2 1600.6 C941.9 1601.6 936.4 1603.5 932.5 1606.4 C928.6 1609.3 924.6 1613.9 922.1 1617.9 C919.6 1621.9 918.3 1626.6 917.5 1630.6 C916.7 1634.6 917.3 1639.4 917.5 1642.1 C917.7 1644.8 918.5 1645.9 918.7 1646.7" fill="none" stroke="#000" stroke-width="1.1" stroke-linejoin="round" shape-rendering="crispEdges"/>
<path d="M946.3 1554.5 C947.1 1553.5 948.4 1550 950.9 1548.8 C953.4 1547.6 957.6 1546.3 961.3 1547.6 C964.9 1548.9 969.7 1552.2 972.8 1556.8 C975.9 1561.4 978.2 1569.1 979.7 1575.3 C981.2 1581.5 982.8 1589.3 982 1593.7 C981.2 1598.1 978 1600.3 975.1 1601.8 C972.2 1603.3 966.4 1602.7 964.7 1602.9" fill="none" stroke="#000" stroke-width="1.1" stroke-linejoin="round" shape-rendering="crispEdges"/>
<path d="M950.9 1558.5 C952.8 1558.5 959.3 1556.7 962.4 1558.5 C965.5 1560.3 967.6 1565.5 969.4 1569.5 C971.2 1573.5 973 1578.5 973.4 1582.2 C973.8 1585.9 973.2 1589.2 971.7 1591.4 C970.2 1593.6 965.9 1594.7 964.7 1595.4" fill="none" stroke="#000" stroke-width="1.1" stroke-linejoin="round" shape-rendering="crispEdges"/>
<path d="M953.2 1537.2 L975.1 1546.5 L982 1544.1" fill="none" stroke="#000" stroke-width="1.1" stroke-linejoin="round" shape-rendering="crispEdges"/>
<path d="M975.1 1546.5 L982 1564.9 L991.2 1587.9 L997 1587.4" fill="none" stroke="#000" stroke-width="1.1" stroke-linejoin="round" shape-rendering="crispEdges"/>
<path d="M991.2 1587.9 L984.3 1600.6 L978.6 1612.1" fill="none" stroke="#000" stroke-width="1.1" stroke-linejoin="round" shape-rendering="crispEdges"/>
<path d="M990.1 1649.6 C988.4 1650.4 982.4 1652.9 979.7 1654.7 C977 1656.5 975.1 1657.8 974 1660.5 C972.9 1663.2 973 1669.2 972.8 1670.9" fill="none" stroke="#000" stroke-width="1.1" stroke-linejoin="round" shape-rendering="crispEdges"/>
<path d="M966.6 1440 L992.8 1467.1 L1003.7 1486.1 L1015.3 1511.4 L1025.6 1522.9" fill="none" stroke="#000" stroke-width="5" stroke-linejoin="round" stroke-linecap="round"/>
<path d="M1009.5 1440 L1017.6 1450.9 L1033.7 1466.5 L1063.6 1493" fill="none" stroke="#000" stroke-width="6" stroke-linejoin="round" stroke-linecap="round"/>
<path d="M1063.6 1493 C1065.5 1494.5 1071.7 1498 1075.2 1502.2 C1078.7 1506.4 1081.5 1512.9 1084.4 1518.3 C1087.3 1523.7 1090.9 1530.3 1092.4 1534.5 C1093.9 1538.7 1094.2 1540.6 1093.6 1543.7 C1093 1546.8 1092.3 1549.5 1089 1552.9 C1085.7 1556.4 1081.7 1560 1074 1564.4 C1066.3 1568.8 1048.1 1576.9 1042.9 1579.4" fill="none" stroke="#000" stroke-width="6" stroke-linejoin="round" stroke-linecap="round"/>
<path d="M968 1531 C969.4 1529.3 970.9 1523.5 976.1 1520.6 C981.3 1517.7 992.6 1514.8 999.1 1513.7 C1005.6 1512.6 1010.9 1512.6 1015.3 1513.7 C1019.7 1514.8 1023.9 1519.4 1025.6 1520.6" fill="none" stroke="#000" stroke-width="6" stroke-linejoin="round" stroke-linecap="round"/>
<path d="M1025.6 1520.6 C1026.9 1523.1 1031.4 1530.6 1033.7 1535.6 C1036 1540.6 1038.1 1545.8 1039.4 1550.6 C1040.8 1555.4 1041.5 1559.8 1041.8 1564.4 C1042.1 1569 1041.8 1574.2 1041.2 1578.2 C1040.6 1582.2 1040.5 1585.1 1038.3 1588.6 C1036.1 1592.1 1032.5 1596.1 1027.9 1599 C1023.3 1601.9 1016.4 1604.6 1010.6 1605.9 C1004.9 1607.2 996.3 1606.9 993.4 1607.1" fill="none" stroke="#000" stroke-width="4.5" stroke-linejoin="round" stroke-linecap="round"/>
<path d="M968 1531 L971.5 1535.6 L979.5 1537.9 L985.3 1546 L992.2 1564.4 L998 1584 L994.5 1597.8 L993.4 1607.1" fill="none" stroke="#000" stroke-width="4.5" stroke-linejoin="round" stroke-linecap="round"/>
<path d="M930 1556.4 L938.1 1552.9 L946.1 1532.2 L954.8 1529.3 L966.9 1533.3 L968 1531" fill="none" stroke="#000" stroke-width="6" stroke-linejoin="round" stroke-linecap="round"/>
<path d="M953 1603.6 L962.3 1609.4 L977.2 1616.3 L987.6 1614 L991.1 1605.9 L993.4 1607.1" fill="none" stroke="#000" stroke-width="6" stroke-linejoin="round" stroke-linecap="round"/>
<path d="M942.7 1555.2 C944.4 1556.5 950.1 1560.4 953 1563.3 C955.9 1566.2 958.3 1568.7 960 1572.5 C961.7 1576.3 962.8 1580.7 963.4 1586.3 C964 1591.9 963.4 1602.6 963.4 1605.9" fill="none" stroke="#000" stroke-width="4" stroke-linejoin="round" stroke-linecap="round"/>
<path d="M953 1603.6 L968 1619.7 L989.9 1640" fill="none" stroke="#000" stroke-width="6" stroke-linejoin="round" stroke-linecap="round"/>
<path d="M993.9 1464.2 C995.1 1462.7 999 1457.2 1001.4 1455 C1003.8 1452.8 1005.7 1451.6 1008.3 1450.9 C1010.9 1450.2 1015.5 1450.9 1017 1450.9" fill="none" stroke="#000" stroke-width="1.1" stroke-linejoin="round" shape-rendering="crispEdges"/>
<path d="M1024.5 1516.6 C1025.7 1515 1027.2 1510.1 1031.4 1506.8 C1035.6 1503.5 1044.4 1498.3 1049.8 1496.5 C1055.2 1494.7 1061.3 1496 1063.6 1495.9" fill="none" stroke="#000" stroke-width="1.1" stroke-linejoin="round" shape-rendering="crispEdges"/>
<path d="M989.9 1522.4 L1003.7 1532.2 L1012.9 1533.9 L1025.6 1529.3" fill="none" stroke="#000" stroke-width="1.1" stroke-linejoin="round" shape-rendering="crispEdges"/>
<path d="M1012.9 1533.9 L1019.9 1561 L1026.2 1574.8 L1040.6 1571.3" fill="none" stroke="#000" stroke-width="1.1" stroke-linejoin="round" shape-rendering="crispEdges"/>
<path d="M1026.2 1574.8 L1022.2 1587.5 L1018.7 1597.8" fill="none" stroke="#000" stroke-width="1.1" stroke-linejoin="round" shape-rendering="crispEdges"/>
<path d="M1003.7 1532.2 C1004.9 1534.1 1007.7 1538 1010.6 1543.7 C1013.5 1549.5 1019.1 1560 1021 1566.7 C1022.9 1573.4 1022 1581.1 1022.2 1584" fill="none" stroke="#000" stroke-width="1.1" stroke-linejoin="round" shape-rendering="crispEdges"/>
<path d="M1019.9 1565.6 L1025.6 1570.2" fill="none" stroke="#000" stroke-width="1.1" stroke-linejoin="round" shape-rendering="crispEdges"/>
<path d="M977.2 1535.6 C979.3 1535.8 985.9 1534.9 989.9 1536.8 C993.9 1538.7 998.3 1542.5 1001.4 1547.1 C1004.5 1551.7 1006.9 1557.9 1008.3 1564.4 C1009.6 1570.9 1010.6 1581.1 1009.5 1586.3 C1008.4 1591.5 1003.9 1593.8 1001.4 1595.5 C998.9 1597.2 995.6 1596.5 994.5 1596.7" fill="none" stroke="#000" stroke-width="1.1" stroke-linejoin="round" shape-rendering="crispEdges"/>
<path d="M951.9 1537.9 L974.9 1547.1 L983 1543.7" fill="none" stroke="#000" stroke-width="1.1" stroke-linejoin="round" shape-rendering="crispEdges"/>
<path d="M974.9 1547.1 L981.8 1566.7 L989.9 1587.5 L998 1587.5" fill="none" stroke="#000" stroke-width="1.1" stroke-linejoin="round" shape-rendering="crispEdges"/>
<path d="M989.9 1587.5 L985.3 1599 L978.4 1614" fill="none" stroke="#000" stroke-width="1.1" stroke-linejoin="round" shape-rendering="crispEdges"/>
<path d="M947.3 1553.5 C948.1 1552.6 949.4 1549.2 951.9 1548.3 C954.4 1547.4 958.8 1546.9 962.3 1548.3 C965.8 1549.7 969.5 1551.8 972.6 1556.4 C975.7 1561 979.2 1569.8 980.7 1575.9 C982.2 1582 982.9 1588.8 981.8 1593.2 C980.6 1597.6 976.7 1600.7 973.8 1602.4 C970.9 1604.1 966.1 1603.4 964.6 1603.6" fill="none" stroke="#000" stroke-width="1.1" stroke-linejoin="round" shape-rendering="crispEdges"/>
<path d="M950.7 1558.7 C952.6 1558.7 959.2 1557 962.3 1558.7 C965.4 1560.4 967.3 1565.3 969.2 1569 C971.1 1572.7 973.2 1577.1 973.8 1580.6 C974.4 1584.1 974.1 1587.3 972.6 1589.8 C971.1 1592.3 965.9 1594.5 964.6 1595.5" fill="none" stroke="#000" stroke-width="1.1" stroke-linejoin="round" shape-rendering="crispEdges"/>
<path d="M930 1574.2 L934.6 1575.9 L950.7 1590.9" fill="none" stroke="#000" stroke-width="1.1" stroke-linejoin="round" shape-rendering="crispEdges"/>
<path d="M930 1598.4 C931 1597.7 932.9 1595.7 935.8 1594.4 C938.7 1593.2 943.7 1591.1 947.3 1590.9 C950.9 1590.7 955.3 1591.5 957.6 1593.2 C959.9 1594.9 960.5 1600 961.1 1601.3" fill="none" stroke="#000" stroke-width="1.1" stroke-linejoin="round" shape-rendering="crispEdges"/>
<path d="M930 1609.4 C931.1 1608.6 934 1606.1 936.9 1604.7 C939.8 1603.3 944.6 1601.9 947.3 1601.3 C950 1600.7 952 1601.3 953 1601.3" fill="none" stroke="#000" stroke-width="1.1" stroke-linejoin="round" shape-rendering="crispEdges"/>
<path d="M1184.6 1996.2 C1182.1 1996.3 1178.7 1999 1176.8 2002.3 C1174.9 2005.6 1173.7 2012.4 1173.3 2016.1 C1172.9 2019.8 1173 2021.7 1174.2 2024.7 C1175.4 2027.7 1177.8 2031.6 1180.2 2034.2 C1182.7 2036.8 1185.6 2038.4 1188.9 2040.3 C1192.2 2042.2 1195.8 2044.2 1200.1 2045.5 C1204.4 2046.8 1208.8 2048 1214.8 2048.1 C1220.8 2048.2 1231.5 2047.8 1236.4 2046.3 C1241.3 2044.8 1242.2 2042.1 1244.2 2039.4 C1246.2 2036.7 1247.5 2033.4 1248.5 2029.9 C1249.5 2026.5 1250.2 2021.9 1250.2 2018.7 C1250.2 2015.5 1250.8 2011.9 1248.5 2010.9 C1246.2 2009.9 1242 2012.2 1236.4 2012.6 C1230.8 2013 1220.6 2013.8 1214.8 2013.1 C1209 2012.4 1205.7 2010.2 1201.8 2008.3 C1197.9 2006.3 1194.4 2003.4 1191.5 2001.4 C1188.6 1999.4 1187 1996.1 1184.6 1996.2Z" fill="#fff" stroke="none"/>
<path d="M1206.6 1976.8 C1207.2 1978.2 1208.7 1982.9 1210.5 1985 C1212.3 1987.1 1214.5 1988.4 1217.4 1989.3 C1220.3 1990.2 1224.9 1990.4 1227.8 1990.6 C1230.7 1990.8 1232.6 1991.3 1234.7 1990.2 C1236.8 1989.1 1239.4 1985.1 1240.3 1984.1" fill="none" stroke="#000" stroke-width="6" stroke-linejoin="round" stroke-linecap="round"/>
<path d="M1247.6 1967.7 C1248.6 1968.6 1252.1 1970.7 1253.7 1972.9 C1255.3 1975.1 1256.5 1976.7 1257.1 1980.7 C1257.7 1984.7 1257.7 1993.1 1257.1 1997.1 C1256.5 2001.1 1255.3 2002.9 1253.7 2004.9 C1252.1 2006.9 1248.6 2008.5 1247.6 2009.2" fill="none" stroke="#000" stroke-width="3.5" stroke-linejoin="round" stroke-linecap="round"/>
<path d="M1184.6 1992.8 C1185.8 1994.2 1188.6 1998.8 1191.5 2001.4 C1194.4 2004 1197.9 2006.3 1201.8 2008.3 C1205.7 2010.2 1209 2012.4 1214.8 2013.1 C1220.6 2013.8 1230.9 2013.2 1236.4 2012.6 C1241.9 2011.9 1245.7 2009.8 1247.6 2009.2" fill="none" stroke="#000" stroke-width="4.5" stroke-linejoin="round" stroke-linecap="round"/>
<path d="M1184.6 1971.2 C1184.2 1972.2 1182.7 1974.8 1182 1977.2 C1181.3 1979.7 1179.8 1983 1180.2 1985.9 C1180.6 1988.8 1183.9 1993.1 1184.6 1994.5" fill="none" stroke="#000" stroke-width="3.5" stroke-linejoin="round" stroke-linecap="round"/>
<path d="M1183.7 1980.7 C1184.6 1982 1185.9 1985.7 1188.9 1988.4 C1191.9 1991.1 1196.8 1994.7 1201.8 1997.1 C1206.8 1999.5 1213.3 2001.8 1219.1 2002.7 C1224.9 2003.6 1231.4 2003.5 1236.4 2002.7 C1241.5 2001.9 1246.2 1999.3 1249.4 1997.9 C1252.6 1996.5 1254.4 1995.1 1255.4 1994.5" fill="none" stroke="#000" stroke-width="1.1" stroke-linejoin="round" shape-rendering="crispEdges"/>
<path d="M1184.6 1996.2 C1183.3 1997.2 1178.7 1999 1176.8 2002.3 C1174.9 2005.6 1173.7 2012.4 1173.3 2016.1 C1172.9 2019.8 1173 2021.7 1174.2 2024.7 C1175.4 2027.7 1177.8 2031.6 1180.2 2034.2 C1182.7 2036.8 1185.6 2038.4 1188.9 2040.3 C1192.2 2042.2 1195.8 2044.2 1200.1 2045.5 C1204.4 2046.8 1208.8 2048 1214.8 2048.1 C1220.8 2048.2 1231.5 2047.8 1236.4 2046.3 C1241.3 2044.8 1242.2 2042.1 1244.2 2039.4 C1246.2 2036.7 1247.5 2033.4 1248.5 2029.9 C1249.5 2026.5 1250.2 2021.9 1250.2 2018.7 C1250.2 2015.5 1248.8 2012.2 1248.5 2010.9" fill="none" stroke="#000" stroke-width="3.5" stroke-linejoin="round" stroke-linecap="round"/>
<path d="M1189.7 2002.3 C1189.6 2003.3 1189.2 2006.6 1188.9 2008.3 C1188.6 2010 1187.6 2010.7 1188 2012.6 C1188.4 2014.5 1189.2 2017.4 1191.5 2019.6 C1193.8 2021.8 1197.9 2023.9 1201.8 2025.6 C1205.7 2027.2 1210.8 2028.9 1214.8 2029.5 C1218.8 2030.1 1222.8 2029.6 1226 2029.1 C1229.2 2028.6 1231.8 2028 1233.8 2026.5 C1235.8 2025 1237.1 2022.4 1238.1 2020.4 C1239.1 2018.4 1239.6 2015.4 1239.9 2014.4" fill="none" stroke="#000" stroke-width="2.5" stroke-linejoin="round" stroke-linecap="round"/>
<path d="M1175.1 2016.1 C1176.1 2017.2 1178.2 2020.7 1181.1 2023 C1184 2025.3 1190.4 2028.8 1192.3 2029.9" fill="none" stroke="#000" stroke-width="2" stroke-linejoin="round"/>
<path d="M1211.3 2036.4 C1213 2036.6 1217.8 2037.9 1221.7 2037.7 C1225.6 2037.5 1230.5 2036.5 1234.7 2035.1 C1238.9 2033.7 1244.8 2030.1 1246.8 2029.1" fill="none" stroke="#000" stroke-width="2" stroke-linejoin="round"/>
<path d="M1184.6 1971.2 L1182.8 1973.8 L1167.3 1961.7 L1163 1949.6 L1163 1934.9 L1167.3 1925.4 L1179.4 1922.3 L1188.9 1925.4 L1209.6 1943.5" fill="none" stroke="#000" stroke-width="3.5" stroke-linejoin="round" stroke-linecap="round"/>
<path d="M1208.8 1956.5 C1207.1 1956.8 1201.9 1957.2 1198.4 1958.2 C1194.9 1959.2 1190.2 1960.5 1188 1962.5 C1185.8 1964.5 1185.8 1969 1185.4 1970.3" fill="none" stroke="#000" stroke-width="3.5" stroke-linejoin="round" stroke-linecap="round"/>
<path d="M1178.5 1926.7 L1208.8 1953" fill="none" stroke="#000" stroke-width="1.1" stroke-linejoin="round" shape-rendering="crispEdges"/>
<path d="M1170.7 1938.3 C1170.8 1937.5 1170.4 1934.4 1171.6 1933.6 C1172.8 1932.8 1175.9 1933.1 1177.6 1933.6 C1179.3 1934.1 1180.7 1934.7 1182 1936.6 C1183.3 1938.5 1184.8 1942 1185.4 1945.2 C1186.1 1948.4 1186.5 1953.1 1185.9 1955.6 C1185.3 1958 1183.7 1959.5 1182 1959.9 C1180.3 1960.3 1176.9 1958.2 1175.9 1957.8" fill="none" stroke="#000" stroke-width="3" stroke-linejoin="round" stroke-linecap="round"/>
<path d="M1175.9 1935.7 C1176.3 1938 1177.3 1946.1 1178.5 1949.6 C1179.7 1953.1 1182.1 1955.3 1182.8 1956.5" fill="none" stroke="#000" stroke-width="2.5" stroke-linejoin="round"/>
<path d="M913.3 2316.5 L903 2330 L890.3 2358.8 L881.1 2361.7 L875.3 2366.9 L852.3 2445.2 L852.3 2451 L856.9 2462.5 L855.7 2485.5 L846.5 2530" fill="none" stroke="#000" stroke-width="6" stroke-linejoin="round" stroke-linecap="round"/>
<path d="M944.6 2327.5 L942.1 2330 L936.4 2380.7 L942.1 2385.3 L942.1 2394.5 L937.5 2410.6 L936.4 2415.3 L942.1 2421" fill="none" stroke="#000" stroke-width="6" stroke-linejoin="round" stroke-linecap="round"/>
<path d="M856.9 2462.5 C858.2 2463.4 861 2466.1 865 2468.2 C869 2470.3 875 2473.8 881.1 2475.2 C887.2 2476.5 896 2477.3 901.8 2476.3 C907.5 2475.3 911.8 2471.1 915.6 2469.4 C919.5 2467.7 922.4 2466.5 924.9 2465.9 C927.4 2465.3 929.6 2465.9 930.6 2465.9" fill="none" stroke="#000" stroke-width="4.5" stroke-linejoin="round" stroke-linecap="round"/>
<path d="M905.3 2478.6 L899.5 2491.3 L885.7 2514.3 L881.1 2530" fill="none" stroke="#000" stroke-width="6" stroke-linejoin="round" stroke-linecap="round"/>
<path d="M942.1 2421 C946.3 2419.1 954.5 2420.7 960.6 2422.2 C966.8 2423.7 973 2427.3 979 2430.2 C985 2433.1 992.8 2435.8 996.3 2439.4 C999.8 2443.1 999.5 2447.5 999.7 2452.1 C999.9 2456.7 999.3 2461.7 997.4 2467.1 C995.5 2472.5 991.7 2480.4 988.2 2484.4 C984.8 2488.4 980.4 2490.2 976.7 2491.3 C973.1 2492.5 970.7 2492.5 966.3 2491.3 C961.9 2490.2 955.6 2486.9 950.2 2484.4 C944.8 2481.9 937.4 2479.4 934.1 2476.3 C930.8 2473.2 931.4 2469.2 930.6 2465.9 C929.8 2462.6 928.7 2462.1 929.5 2456.7 C930.3 2451.3 933.1 2439.6 935.2 2433.7 C937.3 2427.8 937.9 2422.9 942.1 2421Z" fill="none" stroke="#000" stroke-width="6" stroke-linejoin="round" stroke-linecap="round"/>
<path d="M994 2447.5 C992.6 2446.3 989.6 2444.1 987.1 2444.1 C984.6 2444.1 981.7 2445.2 979 2447.5 C976.3 2449.8 972.8 2454.5 970.9 2457.9 C969 2461.3 967.5 2464.4 967.5 2468.2 C967.5 2472 969.2 2478.4 970.9 2480.9 C972.6 2483.4 975.4 2483.6 977.9 2483.2 C980.4 2482.8 983.4 2481.7 985.9 2478.6 C988.4 2475.5 991.2 2469.4 992.8 2464.8 C994.4 2460.2 995.5 2453.9 995.7 2451 C995.9 2448.1 995.4 2448.7 994 2447.5Z" fill="none" stroke="#000" stroke-width="4" stroke-linejoin="round" stroke-linecap="round"/>
<path d="M935.2 2422.2 L920.3 2464.8" fill="none" stroke="#000" stroke-width="3" stroke-linejoin="round" stroke-linecap="round"/>
<path d="M941 2425.6 L927.2 2464.8" fill="none" stroke="#000" stroke-width="2" stroke-linejoin="round"/>
<path d="M884.5 2371.5 C885.1 2373.2 885.5 2378.9 888 2381.8 C890.5 2384.7 894.9 2386.8 899.5 2388.8 C904.1 2390.8 910.6 2393.2 915.6 2393.9 C920.6 2394.6 925.9 2393.9 929.5 2392.8 C933.1 2391.8 936.2 2388.5 937.5 2387.6" fill="none" stroke="#000" stroke-width="1.1" stroke-linejoin="round" shape-rendering="crispEdges"/>
<path d="M876.5 2379.5 C877.6 2381.2 879.9 2387 883.4 2389.9 C886.9 2392.8 892.2 2394.6 897.2 2396.8 C902.2 2399 907.9 2402.3 913.3 2403.2 C918.7 2404.1 925.5 2402.9 929.5 2402 C933.5 2401.1 936.2 2398.7 937.5 2398" fill="none" stroke="#000" stroke-width="1.1" stroke-linejoin="round" shape-rendering="crispEdges"/>
<path d="M935.2 2416.4 C933.9 2415.8 929.9 2412.7 927.2 2412.9 C924.5 2413.1 922.6 2414.5 919.1 2417.6 C915.6 2420.7 910 2426.8 906.4 2431.4 C902.8 2436 899.1 2441.9 897.2 2445.2 C895.3 2448.5 894.5 2448.7 894.9 2451 C895.3 2453.3 897 2456.3 899.5 2459 C902 2461.7 906.4 2466.1 909.9 2467.1 C913.4 2468.1 918.6 2465.2 920.3 2464.8" fill="none" stroke="#000" stroke-width="1.1" stroke-linejoin="round" shape-rendering="crispEdges"/>
<path d="M954.8 2427.4 C952.9 2428.8 946.4 2432.1 943.3 2436 C940.2 2439.9 937.5 2445.1 936.4 2451 C935.2 2456.9 936.4 2468.2 936.4 2471.7" fill="none" stroke="#000" stroke-width="1.1" stroke-linejoin="round" shape-rendering="crispEdges"/>
<path d="M961.6 2430.2 C959.7 2431.7 953.4 2435 950.4 2439 C947.4 2443 944.6 2448.1 943.5 2454 C942.4 2459.9 943.5 2471.2 943.5 2474.7" fill="none" stroke="#000" stroke-width="1.1" stroke-linejoin="round" shape-rendering="crispEdges"/>
<path d="M968.2 2433 C966.4 2434.5 960.4 2437.9 957.4 2441.9 C954.4 2445.9 951.6 2451 950.4 2456.9 C949.2 2462.8 950.4 2474.2 950.4 2477.6" fill="none" stroke="#000" stroke-width="1.1" stroke-linejoin="round" shape-rendering="crispEdges"/>
<path d="M974.5 2435.6 C972.8 2437.1 966.9 2440.7 964 2444.7 C961.1 2448.7 958.2 2453.8 957.1 2459.7 C956 2465.6 957.1 2476.9 957.1 2480.4" fill="none" stroke="#000" stroke-width="1.1" stroke-linejoin="round" shape-rendering="crispEdges"/>
<path d="M980.5 2438.2 C978.8 2439.7 973.2 2443.4 970.4 2447.4 C967.6 2451.4 964.6 2456.4 963.5 2462.3 C962.4 2468.2 963.5 2479.6 963.5 2483.1" fill="none" stroke="#000" stroke-width="1.1" stroke-linejoin="round" shape-rendering="crispEdges"/>
<path d="M986.6 2440.7 C985 2442.2 979.5 2445.9 976.7 2450 C973.9 2454.1 970.9 2459.1 969.8 2465 C968.6 2470.9 969.8 2482.2 969.8 2485.7" fill="none" stroke="#000" stroke-width="1.1" stroke-linejoin="round" shape-rendering="crispEdges"/>
<path d="M854.6 2518.9 C856.3 2519.8 861 2523.2 865 2524.1 C869 2525 876.5 2524.1 878.8 2524.1" fill="none" stroke="#000" stroke-width="1.1" stroke-linejoin="round" shape-rendering="crispEdges"/>
<path d="M911.7 2320.6 C913.7 2321.5 918.9 2324.8 923.7 2326 C928.5 2327.2 937.7 2327.5 940.5 2327.8" fill="none" stroke="#000" stroke-width="1.1" stroke-linejoin="round" shape-rendering="crispEdges"/>
<path d="M944.4 2416.4 L961.7 2410.6 L970.9 2410.6 L979 2425.6 L992.8 2422.2 L999.7 2425.6 L1021.6 2432.5 L1028.5 2449.8 L1030.9 2457.9 L1035 2460.2" fill="none" stroke="#000" stroke-width="2.5" stroke-linejoin="round" stroke-linecap="round"/>
<path d="M922.6 2471.7 L927.2 2477.5 L931.8 2491.3 L945.6 2492.4 L954.8 2490.1 L959.4 2500.5 L967.5 2506.3 L983.6 2513.2 L999.7 2512 L1009 2507.4 L1025.1 2506.3 L1035 2505.7" fill="none" stroke="#000" stroke-width="2.5" stroke-linejoin="round" stroke-linecap="round"/>
<path d="M1020.3 2432.6 L1026.1 2445.3 L1029.5 2449.9 L1029.5 2458 L1039.9 2463.7 L1049.1 2472.9 L1125.7 2506.4" fill="none" stroke="#000" stroke-width="2.5" stroke-linejoin="round" stroke-linecap="round"/>
<path d="M1026.1 2505.2 L1037.6 2504.6 L1113.6 2536.3" fill="none" stroke="#000" stroke-width="2.5" stroke-linejoin="round" stroke-linecap="round"/>
<path d="M1049.1 2474.7 C1047.8 2475.4 1043.2 2476.5 1041.1 2478.7 C1039 2480.9 1037.5 2484.8 1036.5 2487.9 C1035.5 2491 1035.2 2494.3 1035.3 2497.1 C1035.4 2499.9 1036.7 2503.3 1037 2504.6" fill="none" stroke="#000" stroke-width="2.5" stroke-linejoin="round" stroke-linecap="round"/>
<path d="M1154.4 2519.8 L1174.5 2527.9" fill="none" stroke="#000" stroke-width="2.3"/>
<path d="M1198.7 2537.1 C1205 2539.5 1221 2547.2 1236.2 2551.5 C1251.4 2555.8 1271.8 2559.4 1290 2563 C1308.2 2566.6 1336.3 2571.2 1345.6 2572.8" fill="none" stroke="#000" stroke-width="2.3"/>
<path d="M1376.2 2579.7 L1399.2 2583.2" fill="none" stroke="#000" stroke-width="2.3"/>
<path d="M1430.9 2588.4 L1508.1 2601.6" fill="none" stroke="#000" stroke-width="2.3"/>
<path d="M1539.7 2607.4 L1561.6 2610.8" fill="none" stroke="#000" stroke-width="2.3"/>
<path d="M1593.3 2616.6 L1667.1 2628.1" fill="none" stroke="#000" stroke-width="2.3"/>
<path d="M1142.9 2549.8 L1163 2557.8" fill="none" stroke="#000" stroke-width="2.3"/>
<path d="M1186.1 2568.8 C1192.5 2571.2 1209 2578.8 1224.7 2583.2 C1240.4 2587.6 1260.6 2591.3 1280 2595 C1299.4 2598.7 1330.8 2603.4 1341 2605.1" fill="none" stroke="#000" stroke-width="2.3"/>
<path d="M1371.5 2611.4 L1395.7 2614.9" fill="none" stroke="#000" stroke-width="2.3"/>
<path d="M1426.3 2620.6 L1502.9 2633.3" fill="none" stroke="#000" stroke-width="2.3"/>
<path d="M1535.7 2639.1 L1557.6 2642.5" fill="none" stroke="#000" stroke-width="2.3"/>
<path d="M1587.6 2648.8 L1665.3 2662.1" fill="none" stroke="#000" stroke-width="2.3"/>
<path d="M1437.7 3030 L1432.2 3043.8 L1426.6 3051.2 L1413.7 3064.1 L1404.5 3076.1 L1402.7 3078.4" fill="none" stroke="#000" stroke-width="6" stroke-linejoin="round" stroke-linecap="round"/>
<path d="M1471.8 3030 L1460.7 3060.4 L1458.9 3081.6 L1458 3101.9" fill="none" stroke="#000" stroke-width="6" stroke-linejoin="round" stroke-linecap="round"/>
<path d="M1458.9 3092.7 L1463.5 3096.4 L1468.1 3108.3 L1468.1 3118.5 L1462.6 3129.5 L1457.1 3140.6 L1446 3146.1 L1437.7 3148.9" fill="none" stroke="#000" stroke-width="6" stroke-linejoin="round" stroke-linecap="round"/>
<path d="M1406.4 3069.6 L1395.3 3072.4 L1385.2 3079.8 L1381.5 3087.1 L1375.9 3103.7 L1375.9 3114.8 L1380.6 3121.2 L1382.4 3125.9" fill="none" stroke="#000" stroke-width="6" stroke-linejoin="round" stroke-linecap="round"/>
<path d="M1382.4 3125.9 C1383.6 3126.8 1387.3 3129.4 1389.8 3131.4 C1392.2 3133.4 1393.4 3135.7 1397.1 3137.8 C1400.8 3140 1407.6 3142.8 1411.9 3144.3 C1416.2 3145.8 1418.6 3146.1 1422.9 3146.6 C1427.2 3147.1 1435.2 3147 1437.7 3147.1" fill="none" stroke="#000" stroke-width="6" stroke-linejoin="round" stroke-linecap="round"/>
<path d="M1391.6 3089 L1396.2 3079.8 L1402.7 3076.1" fill="none" stroke="#000" stroke-width="3.5" stroke-linejoin="round" stroke-linecap="round"/>
<path d="M1375 3123.1 L1365.8 3127.7 L1362.1 3135.1 L1364 3143.4 L1372.3 3164.6 L1414.7 3183 L1446 3171 L1446.9 3153.5 L1437.7 3148.9" fill="none" stroke="#000" stroke-width="6" stroke-linejoin="round" stroke-linecap="round"/>
<path d="M1430.3 3053 C1430.6 3053.8 1430.7 3056 1432.2 3057.6 C1433.7 3059.2 1436.7 3061 1439.5 3062.3 C1442.3 3063.6 1445.7 3065.1 1448.8 3065.5 C1451.9 3065.9 1456.5 3064.8 1458 3064.6" fill="none" stroke="#000" stroke-width="1.1" stroke-linejoin="round" shape-rendering="crispEdges"/>
<path d="M1402.7 3080.7 C1403 3082.7 1402.7 3089.2 1404.5 3092.7 C1406.3 3096.2 1409.1 3099.1 1413.7 3101.9 C1418.3 3104.7 1427.4 3107.7 1432.2 3109.3 C1437 3110.9 1439.4 3111.6 1442.3 3111.6 C1445.2 3111.6 1447.5 3110.6 1449.7 3109.3 C1451.9 3108 1454.3 3104.6 1455.2 3103.7" fill="none" stroke="#000" stroke-width="1.1" stroke-linejoin="round" shape-rendering="crispEdges"/>
<path d="M1391.6 3089 C1392.1 3090.2 1392.6 3093.6 1394.4 3096.4 C1396.2 3099.2 1398.6 3102.7 1402.7 3105.6 C1406.8 3108.5 1413.6 3111.4 1419.3 3113.9 C1425 3116.4 1431.9 3119.4 1436.8 3120.3 C1441.7 3121.2 1445.4 3120.3 1448.8 3119.4 C1452.2 3118.5 1454.9 3116.5 1457.1 3114.8 C1459.2 3113.1 1460.9 3110.2 1461.7 3109.3" fill="none" stroke="#000" stroke-width="2" stroke-linejoin="round"/>
<path d="M1387 3087.1 L1391.6 3096.4 L1397.1 3111.1 L1389.8 3129.5" fill="none" stroke="#000" stroke-width="1.1" stroke-linejoin="round" shape-rendering="crispEdges"/>
<path d="M1397.1 3111.1 L1419.3 3116.6 L1438.6 3127.7 L1463.5 3115.7" fill="none" stroke="#000" stroke-width="1.1" stroke-linejoin="round" shape-rendering="crispEdges"/>
<path d="M1438.6 3127.7 L1430.3 3145.2" fill="none" stroke="#000" stroke-width="1.1" stroke-linejoin="round" shape-rendering="crispEdges"/>
<path d="M1455.2 3119.4 L1463.5 3118.5" fill="none" stroke="#000" stroke-width="1.1" stroke-linejoin="round" shape-rendering="crispEdges"/>
<path d="M1375 3127.7 C1375.2 3129.2 1375 3134.1 1375.9 3136.9 C1376.8 3139.7 1378.3 3141.7 1380.6 3144.3 C1382.9 3146.9 1384.9 3149.5 1389.8 3152.6 C1394.7 3155.7 1404.5 3160.8 1410 3162.7 C1415.5 3164.6 1418.6 3164.5 1422.9 3164.1 C1427.2 3163.7 1433.1 3161.8 1435.9 3160 C1438.7 3158.2 1438.9 3154.6 1439.5 3153.5" fill="none" stroke="#000" stroke-width="1.1" stroke-linejoin="round" shape-rendering="crispEdges"/>
<path d="M1366.7 3136 L1375 3159 L1414.7 3177.5 L1442.3 3166.4" fill="none" stroke="#000" stroke-width="1.1" stroke-linejoin="round" shape-rendering="crispEdges"/>
<path d="M1369.5 3136.9 L1375.9 3158.1 L1384.2 3160 L1406.4 3168.2 L1416.5 3176.5" fill="none" stroke="#000" stroke-width="1.1" stroke-linejoin="round" shape-rendering="crispEdges"/>
</g>
<g id="text">
<rect x="102.5" y="58.5" width="2476" height="3150" fill="none" stroke="#000" stroke-width="7"/>
<text x="2539" y="3180" font-size="50" text-anchor="end">SBE79-0087</text>
<text x="647.8" y="397.5" font-size="50" text-anchor="start">100</text>
<path d="M449 360 L629 380.2" fill="none" stroke="#000" stroke-width="2.5"/>
<text x="778.5" y="2068.5" font-size="50" text-anchor="start">500</text>
<path d="M854.7 2080.7 L962.7 2208.1" fill="none" stroke="#000" stroke-width="2.5"/>
<path d="M684.2 940.1 A38.8 38.8 0 1 0 684.2 994.5" fill="none" stroke="#000" stroke-width="2.7"/>
<text x="627.4" y="983.1" font-size="44.5" text-anchor="start">5742</text>
<path d="M424.2 952.2 L616.4 966.6" fill="none" stroke="#000" stroke-width="2.5"/>
<path d="M656.1 1007.2 L656.1 1034.3" fill="none" stroke="#000" stroke-width="2.5"/>
<path d="M600.8 1062.6 L600.8 1034.3 L711.7 1034.3 L711.7 1062.6" fill="none" stroke="#000" stroke-width="2.5"/>
<text x="616.2" y="1094.4" font-size="50" text-anchor="start">160</text>
<path d="M1434.5 2023.8 A38.6 38.6 0 1 0 1434.5 2078" fill="none" stroke="#000" stroke-width="2.7"/>
<text x="1380" y="2066.8" font-size="44.5" text-anchor="start">6111</text>
<path d="M1250.8 2011.3 L1367.5 2042.2" fill="none" stroke="#000" stroke-width="2.5"/>
<path d="M1407.2 2090.5 L1407.2 2117" fill="none" stroke="#000" stroke-width="2.5"/>
<path d="M1351.6 2146.7 L1351.6 2117 L1462.5 2117" fill="none" stroke="#000" stroke-width="2.5"/>
<text x="1365.5" y="2176.1" font-size="50" text-anchor="start">550</text>
<text x="1365.5" y="2232.8" font-size="50" text-anchor="start">551</text>
<text x="1365.5" y="2287" font-size="50" text-anchor="start">553</text>
<text x="1365.5" y="2343.1" font-size="50" text-anchor="start">557</text>
<text x="1731.5" y="2839" font-size="50" text-anchor="middle">SEE 71-71-49</text>
<text x="1731" y="2894.2" font-size="50" text-anchor="middle">02-500</text>
<path d="M1630.8 2657.5 L1672.2 2783" fill="none" stroke="#000" stroke-width="2.2"/>
<text x="2331" y="425.3" font-size="50" text-anchor="middle">LP BLEED MASTER</text>
<text x="2330" y="481.5" font-size="50" text-anchor="middle">ACTUATOR</text>
<text x="2330.4" y="535.7" font-size="50" text-anchor="middle">75-31-42</text>
<text x="2375.6" y="789.1" font-size="50" text-anchor="middle">VSV</text>
<text x="2373.8" y="845.3" font-size="50" text-anchor="middle">ACTUATOR</text>
<text x="2372" y="900.7" font-size="50" text-anchor="middle">75-32-41</text>
<path d="M1645.1 441.2 L2088.5 418.5" fill="none" stroke="#000" stroke-width="2.6"/>
<path d="M1699.6 650.6 L2305.3 766.6" fill="none" stroke="#000" stroke-width="2.6"/>
<path d="M1514.5 954.8 L1437.9 984.3 L1465.3 995.2 L1439.9 1046 L1494.4 1071.8 L1517.7 1020.6 L1542.7 1033.9Z" fill="#fff" stroke="#000" stroke-width="5.5" stroke-linejoin="round"/>
<text x="1423.5" y="1135.5" font-size="78" text-anchor="start" font-weight="bold">A</text>
<path d="M2304.7 1319.7 L2304.7 1339.6 L2290.1 1347.5 L2225.2 1236.2 L2303.3 1193.8 L2303.3 1229.6 L2402.7 1282.6 L2402.7 1362.1 L2386.8 1368.7 L2288.1 1311.1" fill="none" stroke="#000" stroke-width="6" stroke-linejoin="round" stroke-linecap="round"/>
<path d="M2387.1 1292.6 L2387.1 1367.4" fill="none" stroke="#000" stroke-width="3" stroke-linejoin="round" stroke-linecap="round"/>
<path d="M2292.7 1235.6 L2387.5 1291.2" fill="none" stroke="#000" stroke-width="3" stroke-linejoin="round" stroke-linecap="round"/>
<path d="M2290.1 1205.8 L2290.1 1237.6 L2292.7 1235.6 L2303.3 1230.3" fill="none" stroke="#000" stroke-width="1.6" stroke-linejoin="round" stroke-linecap="round"/>
<path d="M2305.3 1232.3 L2398.1 1286.6 L2388.1 1291.5" fill="none" stroke="#000" stroke-width="1.6" stroke-linejoin="round" stroke-linecap="round"/>
<path d="M2290.1 1311.1 L2290.1 1347.5" fill="none" stroke="#000" stroke-width="1.6" stroke-linejoin="round" stroke-linecap="round"/>
<path d="M2291.4 1315.7 L2302 1322.4 L2302 1336.3" fill="none" stroke="#000" stroke-width="3" stroke-linejoin="round" stroke-linecap="round"/>
<text transform="matrix(0.875,0.494,0,1,2259.6,1280.4)" font-size="64" font-weight="bold">FWD</text>
<rect x="977.5" y="3026" width="112.5" height="113" fill="none" stroke="#000" stroke-width="8.6" stroke-linejoin="round"/>
<text x="1035.8" y="3111.5" font-size="96" text-anchor="middle" font-weight="bold">A</text>
<text transform="translate(78.6 3214) rotate(-90)" font-size="44">shv2500076a</text>
<path d="M32.5 3181 L32.5 3229.7 L81.8 3229.7" fill="none" stroke="#000" stroke-width="2.6"/>
</g>
</svg>
</body></html>
